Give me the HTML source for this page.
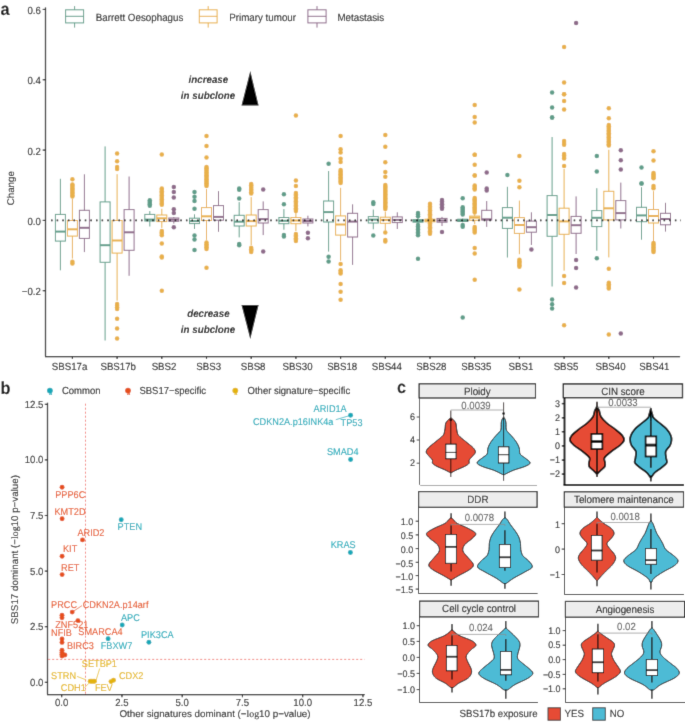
<!DOCTYPE html>
<html><head><meta charset="utf-8"><style>
html,body{margin:0;padding:0;background:#fff;}
body{width:685px;height:723px;overflow:hidden;}
#wrap{width:685px;height:723px;}
svg{display:block;font-family:"Liberation Sans", sans-serif;text-rendering:geometricPrecision;will-change:transform;}
</style></head><body>
<div id="wrap"><svg width="685" height="723" viewBox="0 0 685 723">
<defs><filter id="bl" x="0" y="0" width="685" height="723" filterUnits="userSpaceOnUse"><feConvolveMatrix order="3" kernelMatrix="0.01134 0.08382 0.01134 0.08382 0.61935 0.08382 0.01134 0.08382 0.01134" edgeMode="duplicate" preserveAlpha="true"/></filter></defs>
<rect width="685" height="723" fill="#fff"/>
<g filter="url(#bl)">
<rect width="685" height="723" fill="#fff"/>
<text transform="translate(0.5,14.6) scale(1,1.07)" font-size="16.32" text-anchor="start" fill="#000" font-weight="bold" font-style="normal" >a</text>
<line x1="45.5" y1="7.4" x2="45.5" y2="356.5" stroke="#000" stroke-width="1.25" />
<line x1="42.7" y1="9.44" x2="45.5" y2="9.44" stroke="#000" stroke-width="1.1" />
<text transform="translate(40.9,14.04) scale(1,1.07)" font-size="9.69" text-anchor="end" fill="#0d0d0d" font-weight="normal" font-style="normal" stroke="#0d0d0d" stroke-width="0.08" >0.6</text>
<line x1="42.7" y1="79.76" x2="45.5" y2="79.76" stroke="#000" stroke-width="1.1" />
<text transform="translate(40.9,84.36) scale(1,1.07)" font-size="9.69" text-anchor="end" fill="#0d0d0d" font-weight="normal" font-style="normal" stroke="#0d0d0d" stroke-width="0.08" >0.4</text>
<line x1="42.7" y1="150.08" x2="45.5" y2="150.08" stroke="#000" stroke-width="1.1" />
<text transform="translate(40.9,154.68) scale(1,1.07)" font-size="9.69" text-anchor="end" fill="#0d0d0d" font-weight="normal" font-style="normal" stroke="#0d0d0d" stroke-width="0.08" >0.2</text>
<line x1="42.7" y1="220.4" x2="45.5" y2="220.4" stroke="#000" stroke-width="1.1" />
<text transform="translate(40.9,225) scale(1,1.07)" font-size="9.69" text-anchor="end" fill="#0d0d0d" font-weight="normal" font-style="normal" stroke="#0d0d0d" stroke-width="0.08" >0.0</text>
<line x1="42.7" y1="290.72" x2="45.5" y2="290.72" stroke="#000" stroke-width="1.1" />
<text transform="translate(40.9,295.32) scale(1,1.07)" font-size="9.69" text-anchor="end" fill="#0d0d0d" font-weight="normal" font-style="normal" stroke="#0d0d0d" stroke-width="0.08" >−0.2</text>
<line x1="45" y1="356.5" x2="680.1" y2="356.5" stroke="#000" stroke-width="1.25" />
<line x1="72.4" y1="356.3" x2="72.4" y2="359" stroke="#000" stroke-width="1.1" />
<text transform="translate(69.6,369.5) scale(1,1.07)" font-size="9.69" text-anchor="middle" fill="#0d0d0d" font-weight="normal" font-style="normal" stroke="#0d0d0d" stroke-width="0.08" >SBS17a</text>
<line x1="117.1" y1="356.3" x2="117.1" y2="359" stroke="#000" stroke-width="1.1" />
<text transform="translate(118.2,369.5) scale(1,1.07)" font-size="9.69" text-anchor="middle" fill="#0d0d0d" font-weight="normal" font-style="normal" stroke="#0d0d0d" stroke-width="0.08" >SBS17b</text>
<line x1="161.8" y1="356.3" x2="161.8" y2="359" stroke="#000" stroke-width="1.1" />
<text transform="translate(164,369.5) scale(1,1.07)" font-size="9.69" text-anchor="middle" fill="#0d0d0d" font-weight="normal" font-style="normal" stroke="#0d0d0d" stroke-width="0.08" >SBS2</text>
<line x1="206.5" y1="356.3" x2="206.5" y2="359" stroke="#000" stroke-width="1.1" />
<text transform="translate(208.7,369.5) scale(1,1.07)" font-size="9.69" text-anchor="middle" fill="#0d0d0d" font-weight="normal" font-style="normal" stroke="#0d0d0d" stroke-width="0.08" >SBS3</text>
<line x1="251.2" y1="356.3" x2="251.2" y2="359" stroke="#000" stroke-width="1.1" />
<text transform="translate(253.1,369.5) scale(1,1.07)" font-size="9.69" text-anchor="middle" fill="#0d0d0d" font-weight="normal" font-style="normal" stroke="#0d0d0d" stroke-width="0.08" >SBS8</text>
<line x1="295.9" y1="356.3" x2="295.9" y2="359" stroke="#000" stroke-width="1.1" />
<text transform="translate(297.5,369.5) scale(1,1.07)" font-size="9.69" text-anchor="middle" fill="#0d0d0d" font-weight="normal" font-style="normal" stroke="#0d0d0d" stroke-width="0.08" >SBS30</text>
<line x1="340.6" y1="356.3" x2="340.6" y2="359" stroke="#000" stroke-width="1.1" />
<text transform="translate(342.2,369.5) scale(1,1.07)" font-size="9.69" text-anchor="middle" fill="#0d0d0d" font-weight="normal" font-style="normal" stroke="#0d0d0d" stroke-width="0.08" >SBS18</text>
<line x1="385.3" y1="356.3" x2="385.3" y2="359" stroke="#000" stroke-width="1.1" />
<text transform="translate(386.8,369.5) scale(1,1.07)" font-size="9.69" text-anchor="middle" fill="#0d0d0d" font-weight="normal" font-style="normal" stroke="#0d0d0d" stroke-width="0.08" >SBS44</text>
<line x1="430" y1="356.3" x2="430" y2="359" stroke="#000" stroke-width="1.1" />
<text transform="translate(431.4,369.5) scale(1,1.07)" font-size="9.69" text-anchor="middle" fill="#0d0d0d" font-weight="normal" font-style="normal" stroke="#0d0d0d" stroke-width="0.08" >SBS28</text>
<line x1="474.7" y1="356.3" x2="474.7" y2="359" stroke="#000" stroke-width="1.1" />
<text transform="translate(476.3,369.5) scale(1,1.07)" font-size="9.69" text-anchor="middle" fill="#0d0d0d" font-weight="normal" font-style="normal" stroke="#0d0d0d" stroke-width="0.08" >SBS35</text>
<line x1="519.4" y1="356.3" x2="519.4" y2="359" stroke="#000" stroke-width="1.1" />
<text transform="translate(520.9,369.5) scale(1,1.07)" font-size="9.69" text-anchor="middle" fill="#0d0d0d" font-weight="normal" font-style="normal" stroke="#0d0d0d" stroke-width="0.08" >SBS1</text>
<line x1="564.1" y1="356.3" x2="564.1" y2="359" stroke="#000" stroke-width="1.1" />
<text transform="translate(566,369.5) scale(1,1.07)" font-size="9.69" text-anchor="middle" fill="#0d0d0d" font-weight="normal" font-style="normal" stroke="#0d0d0d" stroke-width="0.08" >SBS5</text>
<line x1="608.8" y1="356.3" x2="608.8" y2="359" stroke="#000" stroke-width="1.1" />
<text transform="translate(610.5,369.5) scale(1,1.07)" font-size="9.69" text-anchor="middle" fill="#0d0d0d" font-weight="normal" font-style="normal" stroke="#0d0d0d" stroke-width="0.08" >SBS40</text>
<line x1="653.5" y1="356.3" x2="653.5" y2="359" stroke="#000" stroke-width="1.1" />
<text transform="translate(654.4,369.5) scale(1,1.07)" font-size="9.69" text-anchor="middle" fill="#0d0d0d" font-weight="normal" font-style="normal" stroke="#0d0d0d" stroke-width="0.08" >SBS41</text>
<text transform="translate(13.9,188.2) rotate(-90)" font-size="9.75" text-anchor="middle" fill="#0d0d0d" stroke="#0d0d0d" stroke-width="0.08">Change</text>
<line x1="74.6" y1="6.1" x2="74.6" y2="27.6" stroke="#5f9d89" stroke-width="1" />
<rect x="65.6" y="9.8" width="18" height="13.1" fill="#fff" stroke="#5f9d89" stroke-width="1"/>
<line x1="65.6" y1="16.3" x2="83.6" y2="16.3" stroke="#5f9d89" stroke-width="1" />
<text transform="translate(95.8,21) scale(1,1.07)" font-size="9.79" text-anchor="start" fill="#0d0d0d" font-weight="normal" font-style="normal" stroke="#0d0d0d" stroke-width="0.08" >Barrett Oesophagus</text>
<line x1="208.2" y1="6.1" x2="208.2" y2="27.6" stroke="#e8b04a" stroke-width="1" />
<rect x="199.3" y="9.8" width="17.8" height="13.1" fill="#fff" stroke="#e8b04a" stroke-width="1"/>
<line x1="199.3" y1="16.3" x2="217.1" y2="16.3" stroke="#e8b04a" stroke-width="1" />
<text transform="translate(229.2,21) scale(1,1.07)" font-size="9.79" text-anchor="start" fill="#0d0d0d" font-weight="normal" font-style="normal" stroke="#0d0d0d" stroke-width="0.08" >Primary tumour</text>
<line x1="317" y1="6.1" x2="317" y2="27.6" stroke="#8e6b8a" stroke-width="1" />
<rect x="307.9" y="9.8" width="18.2" height="13.1" fill="#fff" stroke="#8e6b8a" stroke-width="1"/>
<line x1="307.9" y1="16.3" x2="326.1" y2="16.3" stroke="#8e6b8a" stroke-width="1" />
<text transform="translate(337.4,21) scale(1,1.07)" font-size="9.79" text-anchor="start" fill="#0d0d0d" font-weight="normal" font-style="normal" stroke="#0d0d0d" stroke-width="0.08" >Metastasis</text>
<line x1="60.4" y1="178.8" x2="60.4" y2="214.4" stroke="#5f9d89" stroke-width="1" />
<line x1="60.4" y1="241.1" x2="60.4" y2="270.3" stroke="#5f9d89" stroke-width="1" />
<rect x="55.4" y="214.4" width="10" height="26.7" fill="none" stroke="#5f9d89" stroke-width="1"/>
<line x1="55.4" y1="231.6" x2="65.4" y2="231.6" stroke="#5f9d89" stroke-width="2" />
<circle cx="72.4" cy="179.3" r="2.25" fill="#e8b04a"/>
<circle cx="72.4" cy="184.4" r="2.25" fill="#e8b04a"/>
<circle cx="72.4" cy="185.74" r="2.25" fill="#e8b04a"/>
<circle cx="72.4" cy="187.09" r="2.25" fill="#e8b04a"/>
<circle cx="72.4" cy="188.43" r="2.25" fill="#e8b04a"/>
<circle cx="72.4" cy="189.78" r="2.25" fill="#e8b04a"/>
<circle cx="72.4" cy="191.12" r="2.25" fill="#e8b04a"/>
<circle cx="72.4" cy="192.47" r="2.25" fill="#e8b04a"/>
<circle cx="72.4" cy="193.81" r="2.25" fill="#e8b04a"/>
<circle cx="72.4" cy="195.16" r="2.25" fill="#e8b04a"/>
<circle cx="72.4" cy="196.5" r="2.25" fill="#e8b04a"/>
<circle cx="72.4" cy="261.8" r="2.25" fill="#e8b04a"/>
<circle cx="72.4" cy="263.6" r="2.25" fill="#e8b04a"/>
<line x1="72.4" y1="198.9" x2="72.4" y2="220.5" stroke="#e8b04a" stroke-width="1" />
<line x1="72.4" y1="236.1" x2="72.4" y2="258.5" stroke="#e8b04a" stroke-width="1" />
<rect x="67.4" y="220.5" width="10" height="15.6" fill="none" stroke="#e8b04a" stroke-width="1"/>
<line x1="67.4" y1="229.3" x2="77.4" y2="229.3" stroke="#e8b04a" stroke-width="2" />
<line x1="84.4" y1="174.3" x2="84.4" y2="210.3" stroke="#8e6b8a" stroke-width="1" />
<line x1="84.4" y1="238.4" x2="84.4" y2="252.1" stroke="#8e6b8a" stroke-width="1" />
<rect x="79.4" y="210.3" width="10" height="28.1" fill="none" stroke="#8e6b8a" stroke-width="1"/>
<line x1="79.4" y1="227.8" x2="89.4" y2="227.8" stroke="#8e6b8a" stroke-width="2" />
<line x1="105.1" y1="146.4" x2="105.1" y2="201.9" stroke="#5f9d89" stroke-width="1" />
<line x1="105.1" y1="262.3" x2="105.1" y2="340.5" stroke="#5f9d89" stroke-width="1" />
<rect x="100.1" y="201.9" width="10" height="60.4" fill="none" stroke="#5f9d89" stroke-width="1"/>
<line x1="100.1" y1="245.2" x2="110.1" y2="245.2" stroke="#5f9d89" stroke-width="2" />
<circle cx="117.1" cy="153.4" r="2.25" fill="#e8b04a"/>
<circle cx="117.1" cy="161.3" r="2.25" fill="#e8b04a"/>
<circle cx="117.1" cy="167.1" r="2.25" fill="#e8b04a"/>
<circle cx="117.1" cy="168.9" r="2.25" fill="#e8b04a"/>
<circle cx="117.1" cy="304.1" r="2.25" fill="#e8b04a"/>
<circle cx="117.1" cy="305.7" r="2.25" fill="#e8b04a"/>
<circle cx="117.1" cy="307.3" r="2.25" fill="#e8b04a"/>
<circle cx="117.1" cy="308.9" r="2.25" fill="#e8b04a"/>
<circle cx="117.1" cy="318.7" r="2.25" fill="#e8b04a"/>
<circle cx="117.1" cy="328.6" r="2.25" fill="#e8b04a"/>
<circle cx="117.1" cy="338.6" r="2.25" fill="#e8b04a"/>
<line x1="117.1" y1="174.2" x2="117.1" y2="220.5" stroke="#e8b04a" stroke-width="1" />
<line x1="117.1" y1="253.1" x2="117.1" y2="300.7" stroke="#e8b04a" stroke-width="1" />
<rect x="112.1" y="220.5" width="10" height="32.6" fill="none" stroke="#e8b04a" stroke-width="1"/>
<line x1="112.1" y1="240.5" x2="122.1" y2="240.5" stroke="#e8b04a" stroke-width="2" />
<line x1="129.1" y1="176.5" x2="129.1" y2="209.6" stroke="#8e6b8a" stroke-width="1" />
<line x1="129.1" y1="250.3" x2="129.1" y2="275.8" stroke="#8e6b8a" stroke-width="1" />
<rect x="124.1" y="209.6" width="10" height="40.7" fill="none" stroke="#8e6b8a" stroke-width="1"/>
<line x1="124.1" y1="232.3" x2="134.1" y2="232.3" stroke="#8e6b8a" stroke-width="2" />
<circle cx="149.8" cy="200.3" r="2.25" fill="#5f9d89"/>
<circle cx="149.8" cy="201.65" r="2.25" fill="#5f9d89"/>
<circle cx="149.8" cy="203" r="2.25" fill="#5f9d89"/>
<circle cx="149.8" cy="204.35" r="2.25" fill="#5f9d89"/>
<circle cx="149.8" cy="205.7" r="2.25" fill="#5f9d89"/>
<line x1="149.8" y1="211.1" x2="149.8" y2="214.4" stroke="#5f9d89" stroke-width="1" />
<line x1="149.8" y1="221" x2="149.8" y2="226.5" stroke="#5f9d89" stroke-width="1" />
<rect x="144.8" y="214.4" width="10" height="6.6" fill="none" stroke="#5f9d89" stroke-width="1"/>
<line x1="144.8" y1="219.6" x2="154.8" y2="219.6" stroke="#5f9d89" stroke-width="2" />
<circle cx="161.8" cy="154.4" r="2.25" fill="#e8b04a"/>
<circle cx="161.8" cy="188.5" r="2.25" fill="#e8b04a"/>
<circle cx="161.8" cy="189.86" r="2.25" fill="#e8b04a"/>
<circle cx="161.8" cy="191.22" r="2.25" fill="#e8b04a"/>
<circle cx="161.8" cy="192.57" r="2.25" fill="#e8b04a"/>
<circle cx="161.8" cy="193.93" r="2.25" fill="#e8b04a"/>
<circle cx="161.8" cy="195.29" r="2.25" fill="#e8b04a"/>
<circle cx="161.8" cy="196.65" r="2.25" fill="#e8b04a"/>
<circle cx="161.8" cy="198.01" r="2.25" fill="#e8b04a"/>
<circle cx="161.8" cy="199.37" r="2.25" fill="#e8b04a"/>
<circle cx="161.8" cy="200.73" r="2.25" fill="#e8b04a"/>
<circle cx="161.8" cy="202.08" r="2.25" fill="#e8b04a"/>
<circle cx="161.8" cy="203.44" r="2.25" fill="#e8b04a"/>
<circle cx="161.8" cy="204.8" r="2.25" fill="#e8b04a"/>
<circle cx="161.8" cy="231" r="2.25" fill="#e8b04a"/>
<circle cx="161.8" cy="232.4" r="2.25" fill="#e8b04a"/>
<circle cx="161.8" cy="233.8" r="2.25" fill="#e8b04a"/>
<circle cx="161.8" cy="235.2" r="2.25" fill="#e8b04a"/>
<circle cx="161.8" cy="243.6" r="2.25" fill="#e8b04a"/>
<circle cx="161.8" cy="256.4" r="2.25" fill="#e8b04a"/>
<circle cx="161.8" cy="257.5" r="2.25" fill="#e8b04a"/>
<circle cx="161.8" cy="290.8" r="2.25" fill="#e8b04a"/>
<line x1="161.8" y1="208.8" x2="161.8" y2="215" stroke="#e8b04a" stroke-width="1" />
<line x1="161.8" y1="221.6" x2="161.8" y2="227.9" stroke="#e8b04a" stroke-width="1" />
<rect x="156.8" y="215" width="10" height="6.6" fill="none" stroke="#e8b04a" stroke-width="1"/>
<line x1="156.8" y1="218.3" x2="166.8" y2="218.3" stroke="#e8b04a" stroke-width="2" />
<circle cx="173.8" cy="187.1" r="2.25" fill="#8e6b8a"/>
<circle cx="173.8" cy="192.1" r="2.25" fill="#8e6b8a"/>
<circle cx="173.8" cy="197.4" r="2.25" fill="#8e6b8a"/>
<circle cx="173.8" cy="209.3" r="2.25" fill="#8e6b8a"/>
<circle cx="173.8" cy="212.9" r="2.25" fill="#8e6b8a"/>
<circle cx="173.8" cy="227.3" r="2.25" fill="#8e6b8a"/>
<line x1="173.8" y1="217" x2="173.8" y2="218" stroke="#8e6b8a" stroke-width="1" />
<line x1="173.8" y1="221.3" x2="173.8" y2="223.6" stroke="#8e6b8a" stroke-width="1" />
<rect x="168.8" y="218" width="10" height="3.3" fill="none" stroke="#8e6b8a" stroke-width="1"/>
<line x1="168.8" y1="219.7" x2="178.8" y2="219.7" stroke="#8e6b8a" stroke-width="2" />
<circle cx="194.5" cy="192" r="2.25" fill="#5f9d89"/>
<circle cx="194.5" cy="196.8" r="2.25" fill="#5f9d89"/>
<circle cx="194.5" cy="201" r="2.25" fill="#5f9d89"/>
<circle cx="194.5" cy="208.7" r="2.25" fill="#5f9d89"/>
<circle cx="194.5" cy="235.5" r="2.25" fill="#5f9d89"/>
<circle cx="194.5" cy="239.6" r="2.25" fill="#5f9d89"/>
<circle cx="194.5" cy="250.1" r="2.25" fill="#5f9d89"/>
<line x1="194.5" y1="214.3" x2="194.5" y2="218.2" stroke="#5f9d89" stroke-width="1" />
<line x1="194.5" y1="223.6" x2="194.5" y2="229" stroke="#5f9d89" stroke-width="1" />
<rect x="189.5" y="218.2" width="10" height="5.4" fill="none" stroke="#5f9d89" stroke-width="1"/>
<line x1="189.5" y1="221.1" x2="199.5" y2="221.1" stroke="#5f9d89" stroke-width="2" />
<circle cx="206.5" cy="135.9" r="2.25" fill="#e8b04a"/>
<circle cx="206.5" cy="145.9" r="2.25" fill="#e8b04a"/>
<circle cx="206.5" cy="157.6" r="2.25" fill="#e8b04a"/>
<circle cx="206.5" cy="167" r="2.25" fill="#e8b04a"/>
<circle cx="206.5" cy="168.36" r="2.25" fill="#e8b04a"/>
<circle cx="206.5" cy="169.73" r="2.25" fill="#e8b04a"/>
<circle cx="206.5" cy="171.09" r="2.25" fill="#e8b04a"/>
<circle cx="206.5" cy="172.46" r="2.25" fill="#e8b04a"/>
<circle cx="206.5" cy="173.82" r="2.25" fill="#e8b04a"/>
<circle cx="206.5" cy="175.19" r="2.25" fill="#e8b04a"/>
<circle cx="206.5" cy="176.55" r="2.25" fill="#e8b04a"/>
<circle cx="206.5" cy="177.91" r="2.25" fill="#e8b04a"/>
<circle cx="206.5" cy="179.28" r="2.25" fill="#e8b04a"/>
<circle cx="206.5" cy="180.64" r="2.25" fill="#e8b04a"/>
<circle cx="206.5" cy="182.01" r="2.25" fill="#e8b04a"/>
<circle cx="206.5" cy="183.37" r="2.25" fill="#e8b04a"/>
<circle cx="206.5" cy="184.74" r="2.25" fill="#e8b04a"/>
<circle cx="206.5" cy="186.1" r="2.25" fill="#e8b04a"/>
<circle cx="206.5" cy="242.6" r="2.25" fill="#e8b04a"/>
<circle cx="206.5" cy="244.18" r="2.25" fill="#e8b04a"/>
<circle cx="206.5" cy="245.75" r="2.25" fill="#e8b04a"/>
<circle cx="206.5" cy="247.32" r="2.25" fill="#e8b04a"/>
<circle cx="206.5" cy="248.9" r="2.25" fill="#e8b04a"/>
<circle cx="206.5" cy="267.7" r="2.25" fill="#e8b04a"/>
<line x1="206.5" y1="189.1" x2="206.5" y2="207.6" stroke="#e8b04a" stroke-width="1" />
<line x1="206.5" y1="220.5" x2="206.5" y2="239.9" stroke="#e8b04a" stroke-width="1" />
<rect x="201.5" y="207.6" width="10" height="12.9" fill="none" stroke="#e8b04a" stroke-width="1"/>
<line x1="201.5" y1="216.3" x2="211.5" y2="216.3" stroke="#e8b04a" stroke-width="2" />
<line x1="218.5" y1="191.1" x2="218.5" y2="205.6" stroke="#8e6b8a" stroke-width="1" />
<line x1="218.5" y1="220.2" x2="218.5" y2="231.8" stroke="#8e6b8a" stroke-width="1" />
<rect x="213.5" y="205.6" width="10" height="14.6" fill="none" stroke="#8e6b8a" stroke-width="1"/>
<line x1="213.5" y1="216.9" x2="223.5" y2="216.9" stroke="#8e6b8a" stroke-width="2" />
<circle cx="239.2" cy="188.6" r="2.25" fill="#5f9d89"/>
<circle cx="239.2" cy="189.7" r="2.25" fill="#5f9d89"/>
<circle cx="239.2" cy="198.6" r="2.25" fill="#5f9d89"/>
<circle cx="239.2" cy="244.1" r="2.25" fill="#5f9d89"/>
<circle cx="239.2" cy="245.2" r="2.25" fill="#5f9d89"/>
<line x1="239.2" y1="202.1" x2="239.2" y2="215.3" stroke="#5f9d89" stroke-width="1" />
<line x1="239.2" y1="226" x2="239.2" y2="237.4" stroke="#5f9d89" stroke-width="1" />
<rect x="234.2" y="215.3" width="10" height="10.7" fill="none" stroke="#5f9d89" stroke-width="1"/>
<line x1="234.2" y1="221.7" x2="244.2" y2="221.7" stroke="#5f9d89" stroke-width="2" />
<circle cx="251.2" cy="184" r="2.25" fill="#e8b04a"/>
<circle cx="251.2" cy="185.36" r="2.25" fill="#e8b04a"/>
<circle cx="251.2" cy="186.71" r="2.25" fill="#e8b04a"/>
<circle cx="251.2" cy="188.07" r="2.25" fill="#e8b04a"/>
<circle cx="251.2" cy="189.43" r="2.25" fill="#e8b04a"/>
<circle cx="251.2" cy="190.79" r="2.25" fill="#e8b04a"/>
<circle cx="251.2" cy="192.14" r="2.25" fill="#e8b04a"/>
<circle cx="251.2" cy="193.5" r="2.25" fill="#e8b04a"/>
<circle cx="251.2" cy="247.8" r="2.25" fill="#e8b04a"/>
<circle cx="251.2" cy="249.2" r="2.25" fill="#e8b04a"/>
<circle cx="251.2" cy="250.6" r="2.25" fill="#e8b04a"/>
<circle cx="251.2" cy="252" r="2.25" fill="#e8b04a"/>
<line x1="251.2" y1="197.1" x2="251.2" y2="215" stroke="#e8b04a" stroke-width="1" />
<line x1="251.2" y1="226" x2="251.2" y2="245" stroke="#e8b04a" stroke-width="1" />
<rect x="246.2" y="215" width="10" height="11" fill="none" stroke="#e8b04a" stroke-width="1"/>
<line x1="246.2" y1="221.1" x2="256.2" y2="221.1" stroke="#e8b04a" stroke-width="2" />
<circle cx="263.2" cy="189.5" r="2.25" fill="#8e6b8a"/>
<circle cx="263.2" cy="251.5" r="2.25" fill="#8e6b8a"/>
<line x1="263.2" y1="201.4" x2="263.2" y2="209.6" stroke="#8e6b8a" stroke-width="1" />
<line x1="263.2" y1="223" x2="263.2" y2="235.1" stroke="#8e6b8a" stroke-width="1" />
<rect x="258.2" y="209.6" width="10" height="13.4" fill="none" stroke="#8e6b8a" stroke-width="1"/>
<line x1="258.2" y1="219.1" x2="268.2" y2="219.1" stroke="#8e6b8a" stroke-width="2" />
<circle cx="283.9" cy="194.2" r="2.25" fill="#5f9d89"/>
<circle cx="283.9" cy="204.2" r="2.25" fill="#5f9d89"/>
<circle cx="283.9" cy="235.1" r="2.25" fill="#5f9d89"/>
<circle cx="283.9" cy="236.5" r="2.25" fill="#5f9d89"/>
<line x1="283.9" y1="209.1" x2="283.9" y2="217.5" stroke="#5f9d89" stroke-width="1" />
<line x1="283.9" y1="223.7" x2="283.9" y2="229.7" stroke="#5f9d89" stroke-width="1" />
<rect x="278.9" y="217.5" width="10" height="6.2" fill="none" stroke="#5f9d89" stroke-width="1"/>
<line x1="278.9" y1="220.8" x2="288.9" y2="220.8" stroke="#5f9d89" stroke-width="2" />
<circle cx="295.9" cy="115.5" r="2.25" fill="#e8b04a"/>
<circle cx="295.9" cy="180.5" r="2.25" fill="#e8b04a"/>
<circle cx="295.9" cy="186" r="2.25" fill="#e8b04a"/>
<circle cx="295.9" cy="193" r="2.25" fill="#e8b04a"/>
<circle cx="295.9" cy="194.38" r="2.25" fill="#e8b04a"/>
<circle cx="295.9" cy="195.77" r="2.25" fill="#e8b04a"/>
<circle cx="295.9" cy="197.15" r="2.25" fill="#e8b04a"/>
<circle cx="295.9" cy="198.54" r="2.25" fill="#e8b04a"/>
<circle cx="295.9" cy="199.92" r="2.25" fill="#e8b04a"/>
<circle cx="295.9" cy="201.31" r="2.25" fill="#e8b04a"/>
<circle cx="295.9" cy="202.69" r="2.25" fill="#e8b04a"/>
<circle cx="295.9" cy="204.08" r="2.25" fill="#e8b04a"/>
<circle cx="295.9" cy="205.46" r="2.25" fill="#e8b04a"/>
<circle cx="295.9" cy="206.85" r="2.25" fill="#e8b04a"/>
<circle cx="295.9" cy="208.23" r="2.25" fill="#e8b04a"/>
<circle cx="295.9" cy="209.62" r="2.25" fill="#e8b04a"/>
<circle cx="295.9" cy="211" r="2.25" fill="#e8b04a"/>
<circle cx="295.9" cy="234" r="2.25" fill="#e8b04a"/>
<circle cx="295.9" cy="235.38" r="2.25" fill="#e8b04a"/>
<circle cx="295.9" cy="236.76" r="2.25" fill="#e8b04a"/>
<circle cx="295.9" cy="238.14" r="2.25" fill="#e8b04a"/>
<circle cx="295.9" cy="239.52" r="2.25" fill="#e8b04a"/>
<circle cx="295.9" cy="240.9" r="2.25" fill="#e8b04a"/>
<line x1="295.9" y1="213" x2="295.9" y2="217.5" stroke="#e8b04a" stroke-width="1" />
<line x1="295.9" y1="223.7" x2="295.9" y2="231" stroke="#e8b04a" stroke-width="1" />
<rect x="290.9" y="217.5" width="10" height="6.2" fill="none" stroke="#e8b04a" stroke-width="1"/>
<line x1="290.9" y1="220.5" x2="300.9" y2="220.5" stroke="#e8b04a" stroke-width="2" />
<circle cx="307.9" cy="232.7" r="2.25" fill="#8e6b8a"/>
<circle cx="307.9" cy="238.2" r="2.25" fill="#8e6b8a"/>
<line x1="307.9" y1="215.7" x2="307.9" y2="219" stroke="#8e6b8a" stroke-width="1" />
<line x1="307.9" y1="223" x2="307.9" y2="226.4" stroke="#8e6b8a" stroke-width="1" />
<rect x="302.9" y="219" width="10" height="4" fill="none" stroke="#8e6b8a" stroke-width="1"/>
<line x1="302.9" y1="221" x2="312.9" y2="221" stroke="#8e6b8a" stroke-width="2" />
<circle cx="328.6" cy="163.7" r="2.25" fill="#5f9d89"/>
<circle cx="328.6" cy="256.8" r="2.25" fill="#5f9d89"/>
<circle cx="328.6" cy="261.6" r="2.25" fill="#5f9d89"/>
<line x1="328.6" y1="171" x2="328.6" y2="201" stroke="#5f9d89" stroke-width="1" />
<line x1="328.6" y1="222" x2="328.6" y2="251.6" stroke="#5f9d89" stroke-width="1" />
<rect x="323.6" y="201" width="10" height="21" fill="none" stroke="#5f9d89" stroke-width="1"/>
<line x1="323.6" y1="212.1" x2="333.6" y2="212.1" stroke="#5f9d89" stroke-width="2" />
<circle cx="340.6" cy="136" r="2.25" fill="#e8b04a"/>
<circle cx="340.6" cy="149.3" r="2.25" fill="#e8b04a"/>
<circle cx="340.6" cy="152.5" r="2.25" fill="#e8b04a"/>
<circle cx="340.6" cy="158.8" r="2.25" fill="#e8b04a"/>
<circle cx="340.6" cy="162" r="2.25" fill="#e8b04a"/>
<circle cx="340.6" cy="170.1" r="2.25" fill="#e8b04a"/>
<circle cx="340.6" cy="171.52" r="2.25" fill="#e8b04a"/>
<circle cx="340.6" cy="172.94" r="2.25" fill="#e8b04a"/>
<circle cx="340.6" cy="174.37" r="2.25" fill="#e8b04a"/>
<circle cx="340.6" cy="175.79" r="2.25" fill="#e8b04a"/>
<circle cx="340.6" cy="177.21" r="2.25" fill="#e8b04a"/>
<circle cx="340.6" cy="178.63" r="2.25" fill="#e8b04a"/>
<circle cx="340.6" cy="180.06" r="2.25" fill="#e8b04a"/>
<circle cx="340.6" cy="181.48" r="2.25" fill="#e8b04a"/>
<circle cx="340.6" cy="182.9" r="2.25" fill="#e8b04a"/>
<circle cx="340.6" cy="264" r="2.25" fill="#e8b04a"/>
<circle cx="340.6" cy="270.3" r="2.25" fill="#e8b04a"/>
<circle cx="340.6" cy="271.9" r="2.25" fill="#e8b04a"/>
<circle cx="340.6" cy="273.5" r="2.25" fill="#e8b04a"/>
<circle cx="340.6" cy="284" r="2.25" fill="#e8b04a"/>
<circle cx="340.6" cy="291.8" r="2.25" fill="#e8b04a"/>
<circle cx="340.6" cy="299.7" r="2.25" fill="#e8b04a"/>
<line x1="340.6" y1="187.8" x2="340.6" y2="215.9" stroke="#e8b04a" stroke-width="1" />
<line x1="340.6" y1="235.1" x2="340.6" y2="260.7" stroke="#e8b04a" stroke-width="1" />
<rect x="335.6" y="215.9" width="10" height="19.2" fill="none" stroke="#e8b04a" stroke-width="1"/>
<line x1="335.6" y1="224.5" x2="345.6" y2="224.5" stroke="#e8b04a" stroke-width="2" />
<line x1="352.6" y1="204.3" x2="352.6" y2="213.3" stroke="#8e6b8a" stroke-width="1" />
<line x1="352.6" y1="237" x2="352.6" y2="264.9" stroke="#8e6b8a" stroke-width="1" />
<rect x="347.6" y="213.3" width="10" height="23.7" fill="none" stroke="#8e6b8a" stroke-width="1"/>
<line x1="347.6" y1="221.6" x2="357.6" y2="221.6" stroke="#8e6b8a" stroke-width="2" />
<circle cx="373.3" cy="202.3" r="2.25" fill="#5f9d89"/>
<circle cx="373.3" cy="204.1" r="2.25" fill="#5f9d89"/>
<circle cx="373.3" cy="235.4" r="2.25" fill="#5f9d89"/>
<line x1="373.3" y1="209.6" x2="373.3" y2="216.6" stroke="#5f9d89" stroke-width="1" />
<line x1="373.3" y1="223" x2="373.3" y2="229.3" stroke="#5f9d89" stroke-width="1" />
<rect x="368.3" y="216.6" width="10" height="6.4" fill="none" stroke="#5f9d89" stroke-width="1"/>
<line x1="368.3" y1="219.6" x2="378.3" y2="219.6" stroke="#5f9d89" stroke-width="2" />
<circle cx="385.3" cy="135" r="2.25" fill="#e8b04a"/>
<circle cx="385.3" cy="146.7" r="2.25" fill="#e8b04a"/>
<circle cx="385.3" cy="162.2" r="2.25" fill="#e8b04a"/>
<circle cx="385.3" cy="171.9" r="2.25" fill="#e8b04a"/>
<circle cx="385.3" cy="176.8" r="2.25" fill="#e8b04a"/>
<circle cx="385.3" cy="185.1" r="2.25" fill="#e8b04a"/>
<circle cx="385.3" cy="186.42" r="2.25" fill="#e8b04a"/>
<circle cx="385.3" cy="187.74" r="2.25" fill="#e8b04a"/>
<circle cx="385.3" cy="189.07" r="2.25" fill="#e8b04a"/>
<circle cx="385.3" cy="190.39" r="2.25" fill="#e8b04a"/>
<circle cx="385.3" cy="191.71" r="2.25" fill="#e8b04a"/>
<circle cx="385.3" cy="193.03" r="2.25" fill="#e8b04a"/>
<circle cx="385.3" cy="194.36" r="2.25" fill="#e8b04a"/>
<circle cx="385.3" cy="195.68" r="2.25" fill="#e8b04a"/>
<circle cx="385.3" cy="197" r="2.25" fill="#e8b04a"/>
<circle cx="385.3" cy="198.32" r="2.25" fill="#e8b04a"/>
<circle cx="385.3" cy="199.64" r="2.25" fill="#e8b04a"/>
<circle cx="385.3" cy="200.97" r="2.25" fill="#e8b04a"/>
<circle cx="385.3" cy="202.29" r="2.25" fill="#e8b04a"/>
<circle cx="385.3" cy="203.61" r="2.25" fill="#e8b04a"/>
<circle cx="385.3" cy="204.93" r="2.25" fill="#e8b04a"/>
<circle cx="385.3" cy="206.26" r="2.25" fill="#e8b04a"/>
<circle cx="385.3" cy="207.58" r="2.25" fill="#e8b04a"/>
<circle cx="385.3" cy="208.9" r="2.25" fill="#e8b04a"/>
<circle cx="385.3" cy="232.5" r="2.25" fill="#e8b04a"/>
<circle cx="385.3" cy="239.9" r="2.25" fill="#e8b04a"/>
<circle cx="385.3" cy="241.4" r="2.25" fill="#e8b04a"/>
<line x1="385.3" y1="211.6" x2="385.3" y2="217.2" stroke="#e8b04a" stroke-width="1" />
<line x1="385.3" y1="223.3" x2="385.3" y2="230.5" stroke="#e8b04a" stroke-width="1" />
<rect x="380.3" y="217.2" width="10" height="6.1" fill="none" stroke="#e8b04a" stroke-width="1"/>
<line x1="380.3" y1="219.9" x2="390.3" y2="219.9" stroke="#e8b04a" stroke-width="2" />
<line x1="397.3" y1="212.3" x2="397.3" y2="216.9" stroke="#8e6b8a" stroke-width="1" />
<line x1="397.3" y1="222.6" x2="397.3" y2="229" stroke="#8e6b8a" stroke-width="1" />
<rect x="392.3" y="216.9" width="10" height="5.7" fill="none" stroke="#8e6b8a" stroke-width="1"/>
<line x1="392.3" y1="219.9" x2="402.3" y2="219.9" stroke="#8e6b8a" stroke-width="2" />
<circle cx="418" cy="212.9" r="2.25" fill="#5f9d89"/>
<circle cx="418" cy="214.6" r="2.25" fill="#5f9d89"/>
<circle cx="418" cy="216.3" r="2.25" fill="#5f9d89"/>
<circle cx="418" cy="225.1" r="2.25" fill="#5f9d89"/>
<circle cx="418" cy="226.56" r="2.25" fill="#5f9d89"/>
<circle cx="418" cy="228.01" r="2.25" fill="#5f9d89"/>
<circle cx="418" cy="229.47" r="2.25" fill="#5f9d89"/>
<circle cx="418" cy="230.93" r="2.25" fill="#5f9d89"/>
<circle cx="418" cy="232.39" r="2.25" fill="#5f9d89"/>
<circle cx="418" cy="233.84" r="2.25" fill="#5f9d89"/>
<circle cx="418" cy="235.3" r="2.25" fill="#5f9d89"/>
<circle cx="418" cy="258.7" r="2.25" fill="#5f9d89"/>
<line x1="418" y1="218" x2="418" y2="219.6" stroke="#5f9d89" stroke-width="1" />
<line x1="418" y1="222.2" x2="418" y2="223" stroke="#5f9d89" stroke-width="1" />
<rect x="413" y="219.6" width="10" height="2.6" fill="none" stroke="#5f9d89" stroke-width="1"/>
<line x1="413" y1="221" x2="423" y2="221" stroke="#5f9d89" stroke-width="2" />
<circle cx="430" cy="203.8" r="2.25" fill="#e8b04a"/>
<circle cx="430" cy="205.1" r="2.25" fill="#e8b04a"/>
<circle cx="430" cy="206.41" r="2.25" fill="#e8b04a"/>
<circle cx="430" cy="207.71" r="2.25" fill="#e8b04a"/>
<circle cx="430" cy="209.02" r="2.25" fill="#e8b04a"/>
<circle cx="430" cy="210.32" r="2.25" fill="#e8b04a"/>
<circle cx="430" cy="211.63" r="2.25" fill="#e8b04a"/>
<circle cx="430" cy="212.93" r="2.25" fill="#e8b04a"/>
<circle cx="430" cy="214.23" r="2.25" fill="#e8b04a"/>
<circle cx="430" cy="215.54" r="2.25" fill="#e8b04a"/>
<circle cx="430" cy="216.84" r="2.25" fill="#e8b04a"/>
<circle cx="430" cy="218.15" r="2.25" fill="#e8b04a"/>
<circle cx="430" cy="219.45" r="2.25" fill="#e8b04a"/>
<circle cx="430" cy="220.76" r="2.25" fill="#e8b04a"/>
<circle cx="430" cy="222.06" r="2.25" fill="#e8b04a"/>
<circle cx="430" cy="223.37" r="2.25" fill="#e8b04a"/>
<circle cx="430" cy="224.67" r="2.25" fill="#e8b04a"/>
<circle cx="430" cy="225.97" r="2.25" fill="#e8b04a"/>
<circle cx="430" cy="227.28" r="2.25" fill="#e8b04a"/>
<circle cx="430" cy="228.58" r="2.25" fill="#e8b04a"/>
<circle cx="430" cy="229.89" r="2.25" fill="#e8b04a"/>
<circle cx="430" cy="231.19" r="2.25" fill="#e8b04a"/>
<circle cx="430" cy="232.5" r="2.25" fill="#e8b04a"/>
<circle cx="430" cy="233.8" r="2.25" fill="#e8b04a"/>
<line x1="430" y1="218.5" x2="430" y2="219.2" stroke="#e8b04a" stroke-width="1" />
<line x1="430" y1="221.8" x2="430" y2="222.5" stroke="#e8b04a" stroke-width="1" />
<rect x="425" y="219.2" width="10" height="2.6" fill="none" stroke="#e8b04a" stroke-width="1"/>
<line x1="425" y1="220.5" x2="435" y2="220.5" stroke="#e8b04a" stroke-width="2" />
<circle cx="442" cy="200" r="2.25" fill="#8e6b8a"/>
<circle cx="442" cy="201.45" r="2.25" fill="#8e6b8a"/>
<circle cx="442" cy="202.9" r="2.25" fill="#8e6b8a"/>
<circle cx="442" cy="204.35" r="2.25" fill="#8e6b8a"/>
<circle cx="442" cy="205.8" r="2.25" fill="#8e6b8a"/>
<circle cx="442" cy="207.25" r="2.25" fill="#8e6b8a"/>
<circle cx="442" cy="208.7" r="2.25" fill="#8e6b8a"/>
<circle cx="442" cy="232.1" r="2.25" fill="#8e6b8a"/>
<line x1="442" y1="216.9" x2="442" y2="218.4" stroke="#8e6b8a" stroke-width="1" />
<line x1="442" y1="222.2" x2="442" y2="226" stroke="#8e6b8a" stroke-width="1" />
<rect x="437" y="218.4" width="10" height="3.8" fill="none" stroke="#8e6b8a" stroke-width="1"/>
<line x1="437" y1="220.5" x2="447" y2="220.5" stroke="#8e6b8a" stroke-width="2" />
<circle cx="462.7" cy="198.3" r="2.25" fill="#5f9d89"/>
<circle cx="462.7" cy="207.2" r="2.25" fill="#5f9d89"/>
<circle cx="462.7" cy="208.66" r="2.25" fill="#5f9d89"/>
<circle cx="462.7" cy="210.12" r="2.25" fill="#5f9d89"/>
<circle cx="462.7" cy="211.58" r="2.25" fill="#5f9d89"/>
<circle cx="462.7" cy="213.04" r="2.25" fill="#5f9d89"/>
<circle cx="462.7" cy="214.5" r="2.25" fill="#5f9d89"/>
<circle cx="462.7" cy="224.9" r="2.25" fill="#5f9d89"/>
<circle cx="462.7" cy="226.7" r="2.25" fill="#5f9d89"/>
<circle cx="462.7" cy="317.5" r="2.25" fill="#5f9d89"/>
<line x1="462.7" y1="218.5" x2="462.7" y2="219.2" stroke="#5f9d89" stroke-width="1" />
<line x1="462.7" y1="221.5" x2="462.7" y2="222.2" stroke="#5f9d89" stroke-width="1" />
<rect x="457.7" y="219.2" width="10" height="2.3" fill="none" stroke="#5f9d89" stroke-width="1"/>
<line x1="457.7" y1="220.3" x2="467.7" y2="220.3" stroke="#5f9d89" stroke-width="2" />
<circle cx="474.7" cy="104.9" r="2.25" fill="#e8b04a"/>
<circle cx="474.7" cy="117" r="2.25" fill="#e8b04a"/>
<circle cx="474.7" cy="122.6" r="2.25" fill="#e8b04a"/>
<circle cx="474.7" cy="154.85" r="2.25" fill="#e8b04a"/>
<circle cx="474.7" cy="154.85" r="2.25" fill="#e8b04a"/>
<circle cx="474.7" cy="164.7" r="2.25" fill="#e8b04a"/>
<circle cx="474.7" cy="175.55" r="2.25" fill="#e8b04a"/>
<circle cx="474.7" cy="175.55" r="2.25" fill="#e8b04a"/>
<circle cx="474.7" cy="185.5" r="2.25" fill="#e8b04a"/>
<circle cx="474.7" cy="186.87" r="2.25" fill="#e8b04a"/>
<circle cx="474.7" cy="188.23" r="2.25" fill="#e8b04a"/>
<circle cx="474.7" cy="189.6" r="2.25" fill="#e8b04a"/>
<circle cx="474.7" cy="197.9" r="2.25" fill="#e8b04a"/>
<circle cx="474.7" cy="199.22" r="2.25" fill="#e8b04a"/>
<circle cx="474.7" cy="200.54" r="2.25" fill="#e8b04a"/>
<circle cx="474.7" cy="201.85" r="2.25" fill="#e8b04a"/>
<circle cx="474.7" cy="203.17" r="2.25" fill="#e8b04a"/>
<circle cx="474.7" cy="204.49" r="2.25" fill="#e8b04a"/>
<circle cx="474.7" cy="205.81" r="2.25" fill="#e8b04a"/>
<circle cx="474.7" cy="207.13" r="2.25" fill="#e8b04a"/>
<circle cx="474.7" cy="208.45" r="2.25" fill="#e8b04a"/>
<circle cx="474.7" cy="209.76" r="2.25" fill="#e8b04a"/>
<circle cx="474.7" cy="211.08" r="2.25" fill="#e8b04a"/>
<circle cx="474.7" cy="212.4" r="2.25" fill="#e8b04a"/>
<circle cx="474.7" cy="227" r="2.25" fill="#e8b04a"/>
<circle cx="474.7" cy="228.38" r="2.25" fill="#e8b04a"/>
<circle cx="474.7" cy="229.75" r="2.25" fill="#e8b04a"/>
<circle cx="474.7" cy="231.12" r="2.25" fill="#e8b04a"/>
<circle cx="474.7" cy="232.5" r="2.25" fill="#e8b04a"/>
<circle cx="474.7" cy="248.1" r="2.25" fill="#e8b04a"/>
<circle cx="474.7" cy="253.6" r="2.25" fill="#e8b04a"/>
<circle cx="474.7" cy="279.7" r="2.25" fill="#e8b04a"/>
<line x1="474.7" y1="214.5" x2="474.7" y2="216.1" stroke="#e8b04a" stroke-width="1" />
<line x1="474.7" y1="220.3" x2="474.7" y2="224" stroke="#e8b04a" stroke-width="1" />
<rect x="469.7" y="216.1" width="10" height="4.2" fill="none" stroke="#e8b04a" stroke-width="1"/>
<line x1="469.7" y1="217.6" x2="479.7" y2="217.6" stroke="#e8b04a" stroke-width="2" />
<circle cx="486.7" cy="172.6" r="2.25" fill="#8e6b8a"/>
<circle cx="486.7" cy="188.6" r="2.25" fill="#8e6b8a"/>
<circle cx="486.7" cy="190.6" r="2.25" fill="#8e6b8a"/>
<line x1="486.7" y1="201" x2="486.7" y2="210.3" stroke="#8e6b8a" stroke-width="1" />
<line x1="486.7" y1="220" x2="486.7" y2="226.9" stroke="#8e6b8a" stroke-width="1" />
<rect x="481.7" y="210.3" width="10" height="9.7" fill="none" stroke="#8e6b8a" stroke-width="1"/>
<line x1="481.7" y1="219.3" x2="491.7" y2="219.3" stroke="#8e6b8a" stroke-width="2" />
<circle cx="507.4" cy="174.9" r="2.25" fill="#5f9d89"/>
<line x1="507.4" y1="186.8" x2="507.4" y2="207.6" stroke="#5f9d89" stroke-width="1" />
<line x1="507.4" y1="228.4" x2="507.4" y2="257.5" stroke="#5f9d89" stroke-width="1" />
<rect x="502.4" y="207.6" width="10" height="20.8" fill="none" stroke="#5f9d89" stroke-width="1"/>
<line x1="502.4" y1="217.7" x2="512.4" y2="217.7" stroke="#5f9d89" stroke-width="2" />
<circle cx="519.4" cy="156.1" r="2.25" fill="#e8b04a"/>
<circle cx="519.4" cy="180.7" r="2.25" fill="#e8b04a"/>
<circle cx="519.4" cy="187.3" r="2.25" fill="#e8b04a"/>
<circle cx="519.4" cy="259.8" r="2.25" fill="#e8b04a"/>
<circle cx="519.4" cy="261.18" r="2.25" fill="#e8b04a"/>
<circle cx="519.4" cy="262.56" r="2.25" fill="#e8b04a"/>
<circle cx="519.4" cy="263.94" r="2.25" fill="#e8b04a"/>
<circle cx="519.4" cy="265.32" r="2.25" fill="#e8b04a"/>
<circle cx="519.4" cy="266.7" r="2.25" fill="#e8b04a"/>
<circle cx="519.4" cy="289.6" r="2.25" fill="#e8b04a"/>
<line x1="519.4" y1="200.6" x2="519.4" y2="217.6" stroke="#e8b04a" stroke-width="1" />
<line x1="519.4" y1="233.4" x2="519.4" y2="254.2" stroke="#e8b04a" stroke-width="1" />
<rect x="514.4" y="217.6" width="10" height="15.8" fill="none" stroke="#e8b04a" stroke-width="1"/>
<line x1="514.4" y1="225" x2="524.4" y2="225" stroke="#e8b04a" stroke-width="2" />
<circle cx="531.4" cy="249.4" r="2.25" fill="#8e6b8a"/>
<line x1="531.4" y1="212.3" x2="531.4" y2="221.1" stroke="#8e6b8a" stroke-width="1" />
<line x1="531.4" y1="232.2" x2="531.4" y2="245" stroke="#8e6b8a" stroke-width="1" />
<rect x="526.4" y="221.1" width="10" height="11.1" fill="none" stroke="#8e6b8a" stroke-width="1"/>
<line x1="526.4" y1="227.2" x2="536.4" y2="227.2" stroke="#8e6b8a" stroke-width="2" />
<circle cx="552.1" cy="92.6" r="2.25" fill="#5f9d89"/>
<circle cx="552.1" cy="107.5" r="2.25" fill="#5f9d89"/>
<circle cx="552.1" cy="117.55" r="2.25" fill="#5f9d89"/>
<circle cx="552.1" cy="117.55" r="2.25" fill="#5f9d89"/>
<circle cx="552.1" cy="299.6" r="2.25" fill="#5f9d89"/>
<circle cx="552.1" cy="304.2" r="2.25" fill="#5f9d89"/>
<circle cx="552.1" cy="308.6" r="2.25" fill="#5f9d89"/>
<line x1="552.1" y1="137" x2="552.1" y2="195.6" stroke="#5f9d89" stroke-width="1" />
<line x1="552.1" y1="236.3" x2="552.1" y2="286.5" stroke="#5f9d89" stroke-width="1" />
<rect x="547.1" y="195.6" width="10" height="40.7" fill="none" stroke="#5f9d89" stroke-width="1"/>
<line x1="547.1" y1="215" x2="557.1" y2="215" stroke="#5f9d89" stroke-width="2" />
<circle cx="564.1" cy="46.9" r="2.25" fill="#e8b04a"/>
<circle cx="564.1" cy="82.6" r="2.25" fill="#e8b04a"/>
<circle cx="564.1" cy="94.35" r="2.25" fill="#e8b04a"/>
<circle cx="564.1" cy="94.35" r="2.25" fill="#e8b04a"/>
<circle cx="564.1" cy="100.9" r="2.25" fill="#e8b04a"/>
<circle cx="564.1" cy="109.6" r="2.25" fill="#e8b04a"/>
<circle cx="564.1" cy="141.1" r="2.25" fill="#e8b04a"/>
<circle cx="564.1" cy="142.95" r="2.25" fill="#e8b04a"/>
<circle cx="564.1" cy="144.8" r="2.25" fill="#e8b04a"/>
<circle cx="564.1" cy="154.1" r="2.25" fill="#e8b04a"/>
<circle cx="564.1" cy="155.57" r="2.25" fill="#e8b04a"/>
<circle cx="564.1" cy="157.03" r="2.25" fill="#e8b04a"/>
<circle cx="564.1" cy="158.5" r="2.25" fill="#e8b04a"/>
<circle cx="564.1" cy="166" r="2.25" fill="#e8b04a"/>
<circle cx="564.1" cy="275.9" r="2.25" fill="#e8b04a"/>
<circle cx="564.1" cy="282.9" r="2.25" fill="#e8b04a"/>
<circle cx="564.1" cy="325.3" r="2.25" fill="#e8b04a"/>
<line x1="564.1" y1="169" x2="564.1" y2="208.2" stroke="#e8b04a" stroke-width="1" />
<line x1="564.1" y1="234.3" x2="564.1" y2="270.7" stroke="#e8b04a" stroke-width="1" />
<rect x="559.1" y="208.2" width="10" height="26.1" fill="none" stroke="#e8b04a" stroke-width="1"/>
<line x1="559.1" y1="221.4" x2="569.1" y2="221.4" stroke="#e8b04a" stroke-width="2" />
<circle cx="576.1" cy="23.1" r="2.25" fill="#8e6b8a"/>
<circle cx="576.1" cy="260.1" r="2.25" fill="#8e6b8a"/>
<circle cx="576.1" cy="268" r="2.25" fill="#8e6b8a"/>
<circle cx="576.1" cy="287.4" r="2.25" fill="#8e6b8a"/>
<line x1="576.1" y1="196.4" x2="576.1" y2="216.4" stroke="#8e6b8a" stroke-width="1" />
<line x1="576.1" y1="233.3" x2="576.1" y2="254" stroke="#8e6b8a" stroke-width="1" />
<rect x="571.1" y="216.4" width="10" height="16.9" fill="none" stroke="#8e6b8a" stroke-width="1"/>
<line x1="571.1" y1="225.2" x2="581.1" y2="225.2" stroke="#8e6b8a" stroke-width="2" />
<circle cx="596.8" cy="156" r="2.25" fill="#5f9d89"/>
<circle cx="596.8" cy="171.6" r="2.25" fill="#5f9d89"/>
<circle cx="596.8" cy="258.2" r="2.25" fill="#5f9d89"/>
<line x1="596.8" y1="188.2" x2="596.8" y2="210.6" stroke="#5f9d89" stroke-width="1" />
<line x1="596.8" y1="226.6" x2="596.8" y2="250.7" stroke="#5f9d89" stroke-width="1" />
<rect x="591.8" y="210.6" width="10" height="16" fill="none" stroke="#5f9d89" stroke-width="1"/>
<line x1="591.8" y1="217.8" x2="601.8" y2="217.8" stroke="#5f9d89" stroke-width="2" />
<circle cx="608.8" cy="108.3" r="2.25" fill="#e8b04a"/>
<circle cx="608.8" cy="118.3" r="2.25" fill="#e8b04a"/>
<circle cx="608.8" cy="124.9" r="2.25" fill="#e8b04a"/>
<circle cx="608.8" cy="126.28" r="2.25" fill="#e8b04a"/>
<circle cx="608.8" cy="127.66" r="2.25" fill="#e8b04a"/>
<circle cx="608.8" cy="129.04" r="2.25" fill="#e8b04a"/>
<circle cx="608.8" cy="130.42" r="2.25" fill="#e8b04a"/>
<circle cx="608.8" cy="131.8" r="2.25" fill="#e8b04a"/>
<circle cx="608.8" cy="133.18" r="2.25" fill="#e8b04a"/>
<circle cx="608.8" cy="134.56" r="2.25" fill="#e8b04a"/>
<circle cx="608.8" cy="135.94" r="2.25" fill="#e8b04a"/>
<circle cx="608.8" cy="137.32" r="2.25" fill="#e8b04a"/>
<circle cx="608.8" cy="138.7" r="2.25" fill="#e8b04a"/>
<circle cx="608.8" cy="140.08" r="2.25" fill="#e8b04a"/>
<circle cx="608.8" cy="141.46" r="2.25" fill="#e8b04a"/>
<circle cx="608.8" cy="142.84" r="2.25" fill="#e8b04a"/>
<circle cx="608.8" cy="144.22" r="2.25" fill="#e8b04a"/>
<circle cx="608.8" cy="145.6" r="2.25" fill="#e8b04a"/>
<circle cx="608.8" cy="268.7" r="2.25" fill="#e8b04a"/>
<circle cx="608.8" cy="282.7" r="2.25" fill="#e8b04a"/>
<circle cx="608.8" cy="284.15" r="2.25" fill="#e8b04a"/>
<circle cx="608.8" cy="285.6" r="2.25" fill="#e8b04a"/>
<circle cx="608.8" cy="287.05" r="2.25" fill="#e8b04a"/>
<circle cx="608.8" cy="288.5" r="2.25" fill="#e8b04a"/>
<circle cx="608.8" cy="334.6" r="2.25" fill="#e8b04a"/>
<line x1="608.8" y1="149.8" x2="608.8" y2="191.3" stroke="#e8b04a" stroke-width="1" />
<line x1="608.8" y1="219.9" x2="608.8" y2="257.4" stroke="#e8b04a" stroke-width="1" />
<rect x="603.8" y="191.3" width="10" height="28.6" fill="none" stroke="#e8b04a" stroke-width="1"/>
<line x1="603.8" y1="208.3" x2="613.8" y2="208.3" stroke="#e8b04a" stroke-width="2" />
<circle cx="620.8" cy="150.2" r="2.25" fill="#8e6b8a"/>
<circle cx="620.8" cy="160.2" r="2.25" fill="#8e6b8a"/>
<circle cx="620.8" cy="169.5" r="2.25" fill="#8e6b8a"/>
<circle cx="620.8" cy="333.5" r="2.25" fill="#8e6b8a"/>
<line x1="620.8" y1="182.6" x2="620.8" y2="200.6" stroke="#8e6b8a" stroke-width="1" />
<line x1="620.8" y1="219.9" x2="620.8" y2="228.5" stroke="#8e6b8a" stroke-width="1" />
<rect x="615.8" y="200.6" width="10" height="19.3" fill="none" stroke="#8e6b8a" stroke-width="1"/>
<line x1="615.8" y1="213.1" x2="625.8" y2="213.1" stroke="#8e6b8a" stroke-width="2" />
<circle cx="641.5" cy="167.4" r="2.25" fill="#5f9d89"/>
<circle cx="641.5" cy="183.55" r="2.25" fill="#5f9d89"/>
<circle cx="641.5" cy="183.55" r="2.25" fill="#5f9d89"/>
<line x1="641.5" y1="187.2" x2="641.5" y2="207.3" stroke="#5f9d89" stroke-width="1" />
<line x1="641.5" y1="221.7" x2="641.5" y2="239.7" stroke="#5f9d89" stroke-width="1" />
<rect x="636.5" y="207.3" width="10" height="14.4" fill="none" stroke="#5f9d89" stroke-width="1"/>
<line x1="636.5" y1="215.4" x2="646.5" y2="215.4" stroke="#5f9d89" stroke-width="2" />
<circle cx="653.5" cy="151.2" r="2.25" fill="#e8b04a"/>
<circle cx="653.5" cy="160.6" r="2.25" fill="#e8b04a"/>
<circle cx="653.5" cy="173.1" r="2.25" fill="#e8b04a"/>
<circle cx="653.5" cy="174.4" r="2.25" fill="#e8b04a"/>
<circle cx="653.5" cy="175.7" r="2.25" fill="#e8b04a"/>
<circle cx="653.5" cy="177" r="2.25" fill="#e8b04a"/>
<circle cx="653.5" cy="178.3" r="2.25" fill="#e8b04a"/>
<circle cx="653.5" cy="186.1" r="2.25" fill="#e8b04a"/>
<circle cx="653.5" cy="188.2" r="2.25" fill="#e8b04a"/>
<circle cx="653.5" cy="242.9" r="2.25" fill="#e8b04a"/>
<circle cx="653.5" cy="244.4" r="2.25" fill="#e8b04a"/>
<circle cx="653.5" cy="245.9" r="2.25" fill="#e8b04a"/>
<circle cx="653.5" cy="247.4" r="2.25" fill="#e8b04a"/>
<circle cx="653.5" cy="248.9" r="2.25" fill="#e8b04a"/>
<circle cx="653.5" cy="250.4" r="2.25" fill="#e8b04a"/>
<circle cx="653.5" cy="251.9" r="2.25" fill="#e8b04a"/>
<line x1="653.5" y1="191.2" x2="653.5" y2="209.5" stroke="#e8b04a" stroke-width="1" />
<line x1="653.5" y1="223" x2="653.5" y2="241" stroke="#e8b04a" stroke-width="1" />
<rect x="648.5" y="209.5" width="10" height="13.5" fill="none" stroke="#e8b04a" stroke-width="1"/>
<line x1="648.5" y1="216" x2="658.5" y2="216" stroke="#e8b04a" stroke-width="2" />
<line x1="665.5" y1="202.8" x2="665.5" y2="213.3" stroke="#8e6b8a" stroke-width="1" />
<line x1="665.5" y1="224.8" x2="665.5" y2="231.6" stroke="#8e6b8a" stroke-width="1" />
<rect x="660.5" y="213.3" width="10" height="11.5" fill="none" stroke="#8e6b8a" stroke-width="1"/>
<line x1="660.5" y1="219" x2="670.5" y2="219" stroke="#8e6b8a" stroke-width="2" />
<line x1="51.05" y1="220.4" x2="681" y2="220.4" stroke="#000" stroke-width="1.6" stroke-dasharray="1.5 4.12"/>
<text transform="translate(208.4,83.2) scale(1,1.07)" font-size="9.79" text-anchor="middle" fill="#000" font-weight="bold" font-style="italic" >increase</text>
<text transform="translate(208,98.9) scale(1,1.07)" font-size="9.79" text-anchor="middle" fill="#000" font-weight="bold" font-style="italic" >in subclone</text>
<polygon points="250.3,71.1 258.6,105.6 241.5,105.6" fill="#000"/>
<text transform="translate(208.4,317) scale(1,1.07)" font-size="9.79" text-anchor="middle" fill="#000" font-weight="bold" font-style="italic" >decrease</text>
<text transform="translate(208,332.6) scale(1,1.07)" font-size="9.79" text-anchor="middle" fill="#000" font-weight="bold" font-style="italic" >in subclone</text>
<polygon points="241.5,305 258.6,305 250.3,338.9" fill="#000"/>
<text transform="translate(0.5,394.3) scale(1,1.07)" font-size="16.32" text-anchor="start" fill="#000" font-weight="bold" font-style="normal" >b</text>
<line x1="47.5" y1="402.8" x2="47.5" y2="694.5" stroke="#000" stroke-width="1.25" />
<line x1="47" y1="694.5" x2="364.7" y2="694.5" stroke="#000" stroke-width="1.25" />
<line x1="44.8" y1="404.3" x2="47.5" y2="404.3" stroke="#000" stroke-width="1.1" />
<text transform="translate(43.4,407.7) scale(1,1.07)" font-size="9.59" text-anchor="end" fill="#0d0d0d" font-weight="normal" font-style="normal" stroke="#0d0d0d" stroke-width="0.08" >12.5</text>
<line x1="44.8" y1="459.9" x2="47.5" y2="459.9" stroke="#000" stroke-width="1.1" />
<text transform="translate(43.4,463.3) scale(1,1.07)" font-size="9.59" text-anchor="end" fill="#0d0d0d" font-weight="normal" font-style="normal" stroke="#0d0d0d" stroke-width="0.08" >10.0</text>
<line x1="44.8" y1="515.5" x2="47.5" y2="515.5" stroke="#000" stroke-width="1.1" />
<text transform="translate(43.4,518.9) scale(1,1.07)" font-size="9.59" text-anchor="end" fill="#0d0d0d" font-weight="normal" font-style="normal" stroke="#0d0d0d" stroke-width="0.08" >7.5</text>
<line x1="44.8" y1="571.1" x2="47.5" y2="571.1" stroke="#000" stroke-width="1.1" />
<text transform="translate(43.4,574.5) scale(1,1.07)" font-size="9.59" text-anchor="end" fill="#0d0d0d" font-weight="normal" font-style="normal" stroke="#0d0d0d" stroke-width="0.08" >5.0</text>
<line x1="44.8" y1="626.7" x2="47.5" y2="626.7" stroke="#000" stroke-width="1.1" />
<text transform="translate(43.4,630.1) scale(1,1.07)" font-size="9.59" text-anchor="end" fill="#0d0d0d" font-weight="normal" font-style="normal" stroke="#0d0d0d" stroke-width="0.08" >2.5</text>
<line x1="44.8" y1="682.3" x2="47.5" y2="682.3" stroke="#000" stroke-width="1.1" />
<text transform="translate(43.4,685.7) scale(1,1.07)" font-size="9.59" text-anchor="end" fill="#0d0d0d" font-weight="normal" font-style="normal" stroke="#0d0d0d" stroke-width="0.08" >0.0</text>
<line x1="61.7" y1="694.6" x2="61.7" y2="697.3" stroke="#000" stroke-width="1.1" />
<text transform="translate(61.7,705.6) scale(1,1.07)" font-size="9.59" text-anchor="middle" fill="#0d0d0d" font-weight="normal" font-style="normal" stroke="#0d0d0d" stroke-width="0.08" >0.0</text>
<line x1="121.95" y1="694.6" x2="121.95" y2="697.3" stroke="#000" stroke-width="1.1" />
<text transform="translate(121.95,705.6) scale(1,1.07)" font-size="9.59" text-anchor="middle" fill="#0d0d0d" font-weight="normal" font-style="normal" stroke="#0d0d0d" stroke-width="0.08" >2.5</text>
<line x1="182.2" y1="694.6" x2="182.2" y2="697.3" stroke="#000" stroke-width="1.1" />
<text transform="translate(182.2,705.6) scale(1,1.07)" font-size="9.59" text-anchor="middle" fill="#0d0d0d" font-weight="normal" font-style="normal" stroke="#0d0d0d" stroke-width="0.08" >5.0</text>
<line x1="242.45" y1="694.6" x2="242.45" y2="697.3" stroke="#000" stroke-width="1.1" />
<text transform="translate(242.45,705.6) scale(1,1.07)" font-size="9.59" text-anchor="middle" fill="#0d0d0d" font-weight="normal" font-style="normal" stroke="#0d0d0d" stroke-width="0.08" >7.5</text>
<line x1="302.7" y1="694.6" x2="302.7" y2="697.3" stroke="#000" stroke-width="1.1" />
<text transform="translate(302.7,705.6) scale(1,1.07)" font-size="9.59" text-anchor="middle" fill="#0d0d0d" font-weight="normal" font-style="normal" stroke="#0d0d0d" stroke-width="0.08" >10.0</text>
<line x1="362.95" y1="694.6" x2="362.95" y2="697.3" stroke="#000" stroke-width="1.1" />
<text transform="translate(362.95,705.6) scale(1,1.07)" font-size="9.59" text-anchor="middle" fill="#0d0d0d" font-weight="normal" font-style="normal" stroke="#0d0d0d" stroke-width="0.08" >12.5</text>
<line x1="85.5" y1="403.7" x2="85.5" y2="694" stroke="#f0706a" stroke-width="0.9" stroke-dasharray="2 2"/>
<line x1="48.2" y1="659.4" x2="364.5" y2="659.4" stroke="#f0706a" stroke-width="0.9" stroke-dasharray="2 2"/>
<text transform="translate(17.6,549.6) rotate(-90)" font-size="9.8" text-anchor="middle" fill="#0d0d0d" stroke="#0d0d0d" stroke-width="0.08">SBS17 dominant (−<tspan font-family='"Liberation Serif", serif'>log</tspan>10 p−value)</text>
<text x="215" y="717.2" font-size="9.8" text-anchor="middle" fill="#0d0d0d" stroke="#0d0d0d" stroke-width="0.08">Other signatures dominant (−<tspan font-family='"Liberation Serif", serif'>log</tspan>10 p−value)</text>
<circle cx="49.9" cy="390.6" r="2.9" fill="#15a8b8"/>
<text x="50.5" y="394.8" font-size="5.5" text-anchor="middle" fill="#15a8b8" font-weight="bold">a</text>
<text transform="translate(62,394.2) scale(1,1.07)" font-size="9.49" text-anchor="start" fill="#0d0d0d" font-weight="normal" font-style="normal" stroke="#0d0d0d" stroke-width="0.08" >Common</text>
<circle cx="128" cy="390.6" r="2.9" fill="#e5501e"/>
<text x="128.6" y="394.8" font-size="5.5" text-anchor="middle" fill="#e5501e" font-weight="bold">a</text>
<text transform="translate(139.4,394.2) scale(1,1.07)" font-size="9.49" text-anchor="start" fill="#0d0d0d" font-weight="normal" font-style="normal" stroke="#0d0d0d" stroke-width="0.08" >SBS17−specific</text>
<circle cx="235.3" cy="390.6" r="2.9" fill="#e3b30a"/>
<text x="235.9" y="394.8" font-size="5.5" text-anchor="middle" fill="#e3b30a" font-weight="bold">a</text>
<text transform="translate(247.6,394.2) scale(1,1.07)" font-size="9.49" text-anchor="start" fill="#0d0d0d" font-weight="normal" font-style="normal" stroke="#0d0d0d" stroke-width="0.08" >Other signature−specific</text>
<line x1="72.2" y1="612.1" x2="82" y2="605.6" stroke="#e5501e" stroke-width="0.7" />
<line x1="335.8" y1="419.7" x2="350.6" y2="415.3" stroke="#15a8b8" stroke-width="0.7" />
<line x1="99.7" y1="668.5" x2="96.2" y2="679.9" stroke="#e3b30a" stroke-width="0.7" />
<line x1="77" y1="676.4" x2="86.2" y2="679.9" stroke="#e3b30a" stroke-width="0.7" />
<line x1="84.4" y1="687.7" x2="88.8" y2="683.4" stroke="#e3b30a" stroke-width="0.7" />
<circle cx="62.1" cy="487.3" r="2.45" fill="#e5501e"/>
<circle cx="62.1" cy="518.7" r="2.45" fill="#e5501e"/>
<circle cx="82.5" cy="539.9" r="2.45" fill="#e5501e"/>
<circle cx="62.1" cy="556.2" r="2.45" fill="#e5501e"/>
<circle cx="62.1" cy="574.6" r="2.45" fill="#e5501e"/>
<circle cx="72.2" cy="612.1" r="2.45" fill="#e5501e"/>
<circle cx="62" cy="615.3" r="2.45" fill="#e5501e"/>
<circle cx="62" cy="617.8" r="2.45" fill="#e5501e"/>
<circle cx="77.9" cy="620.6" r="2.45" fill="#e5501e"/>
<circle cx="62" cy="639" r="2.45" fill="#e5501e"/>
<circle cx="62" cy="642.4" r="2.45" fill="#e5501e"/>
<circle cx="62" cy="650.3" r="2.45" fill="#e5501e"/>
<circle cx="62" cy="652.4" r="2.45" fill="#e5501e"/>
<circle cx="62" cy="654.3" r="2.45" fill="#e5501e"/>
<circle cx="62" cy="656" r="2.45" fill="#e5501e"/>
<circle cx="64.9" cy="655" r="2.45" fill="#e5501e"/>
<circle cx="121.2" cy="519.7" r="2.45" fill="#15a8b8"/>
<circle cx="122.2" cy="625" r="2.45" fill="#15a8b8"/>
<circle cx="108.1" cy="638.8" r="2.45" fill="#15a8b8"/>
<circle cx="148.9" cy="642.3" r="2.45" fill="#15a8b8"/>
<circle cx="350.6" cy="415.3" r="2.45" fill="#15a8b8"/>
<circle cx="350.6" cy="459.5" r="2.45" fill="#15a8b8"/>
<circle cx="350.4" cy="552.5" r="2.45" fill="#15a8b8"/>
<circle cx="90.2" cy="681.3" r="2.45" fill="#e3b30a"/>
<circle cx="91.7" cy="681.3" r="2.45" fill="#e3b30a"/>
<circle cx="93.1" cy="681.3" r="2.45" fill="#e3b30a"/>
<circle cx="94.5" cy="681.3" r="2.45" fill="#e3b30a"/>
<circle cx="111" cy="681.6" r="2.45" fill="#e3b30a"/>
<circle cx="113.5" cy="680.2" r="2.45" fill="#e3b30a"/>
<text transform="translate(55.2,498.2) scale(1,1.07)" font-size="9.18" text-anchor="start" fill="#e5501e" font-weight="normal" font-style="normal" stroke="#e5501e" stroke-width="0.08" >PPP6C</text>
<text transform="translate(54.5,515) scale(1,1.07)" font-size="9.18" text-anchor="start" fill="#e5501e" font-weight="normal" font-style="normal" stroke="#e5501e" stroke-width="0.08" >KMT2D</text>
<text transform="translate(77.4,535.8) scale(1,1.07)" font-size="9.18" text-anchor="start" fill="#e5501e" font-weight="normal" font-style="normal" stroke="#e5501e" stroke-width="0.08" >ARID2</text>
<text transform="translate(63,552.3) scale(1,1.07)" font-size="9.18" text-anchor="start" fill="#e5501e" font-weight="normal" font-style="normal" stroke="#e5501e" stroke-width="0.08" >KIT</text>
<text transform="translate(61.1,570.5) scale(1,1.07)" font-size="9.18" text-anchor="start" fill="#e5501e" font-weight="normal" font-style="normal" stroke="#e5501e" stroke-width="0.08" >RET</text>
<text transform="translate(51.1,608) scale(1,1.07)" font-size="9.18" text-anchor="start" fill="#e5501e" font-weight="normal" font-style="normal" stroke="#e5501e" stroke-width="0.08" >PRCC</text>
<text transform="translate(82.7,608) scale(1,1.07)" font-size="9.18" text-anchor="start" fill="#e5501e" font-weight="normal" font-style="normal" stroke="#e5501e" stroke-width="0.08" >CDKN2A.p14arf</text>
<text transform="translate(55.2,627.7) scale(1,1.07)" font-size="9.18" text-anchor="start" fill="#e5501e" font-weight="normal" font-style="normal" stroke="#e5501e" stroke-width="0.08" >ZNF521</text>
<text transform="translate(78.3,634.7) scale(1,1.07)" font-size="9.18" text-anchor="start" fill="#e5501e" font-weight="normal" font-style="normal" stroke="#e5501e" stroke-width="0.08" >SMARCA4</text>
<text transform="translate(51.1,636.1) scale(1,1.07)" font-size="9.18" text-anchor="start" fill="#e5501e" font-weight="normal" font-style="normal" stroke="#e5501e" stroke-width="0.08" >NFIB</text>
<text transform="translate(66.9,649.2) scale(1,1.07)" font-size="9.18" text-anchor="start" fill="#e5501e" font-weight="normal" font-style="normal" stroke="#e5501e" stroke-width="0.08" >BIRC3</text>
<text transform="translate(117.6,530.1) scale(1,1.07)" font-size="9.18" text-anchor="start" fill="#15a8b8" font-weight="normal" font-style="normal" stroke="#15a8b8" stroke-width="0.08" >PTEN</text>
<text transform="translate(120.9,620.6) scale(1,1.07)" font-size="9.18" text-anchor="start" fill="#15a8b8" font-weight="normal" font-style="normal" stroke="#15a8b8" stroke-width="0.08" >APC</text>
<text transform="translate(100.7,649.2) scale(1,1.07)" font-size="9.18" text-anchor="start" fill="#15a8b8" font-weight="normal" font-style="normal" stroke="#15a8b8" stroke-width="0.08" >FBXW7</text>
<text transform="translate(141,638.1) scale(1,1.07)" font-size="9.18" text-anchor="start" fill="#15a8b8" font-weight="normal" font-style="normal" stroke="#15a8b8" stroke-width="0.08" >PIK3CA</text>
<text transform="translate(313.6,411.7) scale(1,1.07)" font-size="9.18" text-anchor="start" fill="#15a8b8" font-weight="normal" font-style="normal" stroke="#15a8b8" stroke-width="0.08" >ARID1A</text>
<text transform="translate(252.9,424.8) scale(1,1.07)" font-size="9.18" text-anchor="start" fill="#15a8b8" font-weight="normal" font-style="normal" stroke="#15a8b8" stroke-width="0.08" >CDKN2A.p16INK4a</text>
<text transform="translate(340.6,425.7) scale(1,1.07)" font-size="9.18" text-anchor="start" fill="#15a8b8" font-weight="normal" font-style="normal" stroke="#15a8b8" stroke-width="0.08" >TP53</text>
<text transform="translate(326.9,455.3) scale(1,1.07)" font-size="9.18" text-anchor="start" fill="#15a8b8" font-weight="normal" font-style="normal" stroke="#15a8b8" stroke-width="0.08" >SMAD4</text>
<text transform="translate(330.7,548.3) scale(1,1.07)" font-size="9.18" text-anchor="start" fill="#15a8b8" font-weight="normal" font-style="normal" stroke="#15a8b8" stroke-width="0.08" >KRAS</text>
<text transform="translate(81.8,666.7) scale(1,1.07)" font-size="9.18" text-anchor="start" fill="#e3b30a" font-weight="normal" font-style="normal" stroke="#e3b30a" stroke-width="0.08" >SETBP1</text>
<text transform="translate(51.1,679) scale(1,1.07)" font-size="9.18" text-anchor="start" fill="#e3b30a" font-weight="normal" font-style="normal" stroke="#e3b30a" stroke-width="0.08" >STRN</text>
<text transform="translate(60.8,691.2) scale(1,1.07)" font-size="9.18" text-anchor="start" fill="#e3b30a" font-weight="normal" font-style="normal" stroke="#e3b30a" stroke-width="0.08" >CDH1</text>
<text transform="translate(94.9,691.2) scale(1,1.07)" font-size="9.18" text-anchor="start" fill="#e3b30a" font-weight="normal" font-style="normal" stroke="#e3b30a" stroke-width="0.08" >FEV</text>
<text transform="translate(118.9,678.6) scale(1,1.07)" font-size="9.18" text-anchor="start" fill="#e3b30a" font-weight="normal" font-style="normal" stroke="#e3b30a" stroke-width="0.08" >CDX2</text>
<text transform="translate(397,392.6) scale(1,1.07)" font-size="16.32" text-anchor="start" fill="#000" font-weight="bold" font-style="normal" >c</text>
<rect x="419.1" y="383.8" width="116.4" height="14.2" fill="#ededed" stroke="#000" stroke-width="1.1"/>
<text transform="translate(477.3,394.6) scale(1,1.07)" font-size="9.79" text-anchor="middle" fill="#0d0d0d" font-weight="normal" font-style="normal" stroke="#0d0d0d" stroke-width="0.08" >Ploidy</text>
<line x1="420.2" y1="485.5" x2="537" y2="485.5" stroke="#9a9a9a" stroke-width="0.9" />
<line x1="419.5" y1="398" x2="419.5" y2="484.8" stroke="#444" stroke-width="1.0" />
<line x1="416.7" y1="417" x2="419.5" y2="417" stroke="#444" stroke-width="1.0" />
<text transform="translate(415,420.1) scale(1,1.07)" font-size="8.98" text-anchor="end" fill="#0d0d0d" font-weight="normal" font-style="normal" stroke="#0d0d0d" stroke-width="0.08" >6</text>
<line x1="416.7" y1="440" x2="419.5" y2="440" stroke="#444" stroke-width="1.0" />
<text transform="translate(415,443.1) scale(1,1.07)" font-size="8.98" text-anchor="end" fill="#0d0d0d" font-weight="normal" font-style="normal" stroke="#0d0d0d" stroke-width="0.08" >4</text>
<line x1="416.7" y1="463.2" x2="419.5" y2="463.2" stroke="#444" stroke-width="1.0" />
<text transform="translate(415,466.3) scale(1,1.07)" font-size="8.98" text-anchor="end" fill="#0d0d0d" font-weight="normal" font-style="normal" stroke="#0d0d0d" stroke-width="0.08" >2</text>
<path d="M450.8,417.6 C450.88,417.69 450.97,417.89 451.3,418.16 C451.63,418.43 452.05,418.41 452.8,419.2 C453.55,419.99 455.2,421.6 455.8,422.9 C456.4,424.2 456.2,425.65 456.4,427 C456.6,428.35 456.63,429.6 457,431 C457.37,432.4 457.13,433.63 458.6,435.4 C460.07,437.17 463.37,439.53 465.8,441.6 C468.23,443.67 471.6,446.03 473.2,447.8 C474.8,449.57 475.55,450.75 475.4,452.2 C475.25,453.65 473.33,455.2 472.3,456.5 C471.27,457.8 469.75,458.85 469.2,460 C468.65,461.15 469.78,462.32 469,463.4 C468.22,464.48 466.45,465.47 464.5,466.5 C462.55,467.53 459.22,468.72 457.3,469.6 C455.38,470.48 453.99,471.28 453,471.8 C452.01,472.32 451.72,472.48 451.35,472.71 C450.98,472.94 450.89,473.12 450.8,473.2 C450.71,473.12 450.62,472.94 450.25,472.71 C449.88,472.48 449.59,472.32 448.6,471.8 C447.61,471.28 446.22,470.48 444.3,469.6 C442.38,468.72 439.05,467.53 437.1,466.5 C435.15,465.47 433.38,464.48 432.6,463.4 C431.82,462.32 432.95,461.15 432.4,460 C431.85,458.85 430.33,457.8 429.3,456.5 C428.27,455.2 426.35,453.65 426.2,452.2 C426.05,450.75 426.8,449.57 428.4,447.8 C430,446.03 433.37,443.67 435.8,441.6 C438.23,439.53 441.53,437.17 443,435.4 C444.47,433.63 444.23,432.4 444.6,431 C444.97,429.6 445,428.35 445.2,427 C445.4,425.65 445.2,424.2 445.8,422.9 C446.4,421.6 448.05,419.99 448.8,419.2 C449.55,418.41 449.97,418.43 450.3,418.16 C450.63,417.89 450.72,417.69 450.8,417.6Z" fill="#e64b35" stroke="#000" stroke-width="0.9" stroke-linejoin="round"/>
<line x1="450.8" y1="410.5" x2="450.8" y2="477" stroke="#1a0a08" stroke-width="0.9" />
<rect x="445.8" y="444.1" width="10.3" height="14.7" fill="#fff" stroke="#000" stroke-width="0.9"/>
<line x1="445.8" y1="452.4" x2="456.1" y2="452.4" stroke="#000" stroke-width="0.9" />
<circle cx="450.8" cy="420" r="1.3" fill="#000"/>
<path d="M503.6,416.5 C503.66,416.66 503.73,417 503.98,417.44 C504.23,417.89 504.76,418.29 505.1,419.2 C505.44,420.11 505.82,421.25 506,422.9 C506.18,424.55 505.95,427.65 506.2,429.1 C506.45,430.55 506.68,430.55 507.5,431.6 C508.32,432.65 509.67,433.73 511.1,435.4 C512.53,437.07 514.75,439.53 516.1,441.6 C517.45,443.67 518.53,445.73 519.2,447.8 C519.87,449.87 519.17,452.33 520.1,454 C521.03,455.67 523.12,456.33 524.8,457.8 C526.48,459.27 530.2,461.35 530.2,462.8 C530.2,464.25 527.57,465.27 524.8,466.5 C522.03,467.73 516.8,468.95 513.6,470.2 C510.4,471.45 507.18,473.2 505.6,474 C504.02,474.8 504.43,474.73 504.1,474.98 C503.77,475.23 503.68,475.41 503.6,475.5 C503.52,475.41 503.43,475.23 503.1,474.98 C502.77,474.73 503.18,474.8 501.6,474 C500.02,473.2 496.8,471.45 493.6,470.2 C490.4,468.95 485.17,467.73 482.4,466.5 C479.63,465.27 477,464.25 477,462.8 C477,461.35 480.72,459.27 482.4,457.8 C484.08,456.33 486.17,455.67 487.1,454 C488.03,452.33 487.33,449.87 488,447.8 C488.67,445.73 489.75,443.67 491.1,441.6 C492.45,439.53 494.67,437.07 496.1,435.4 C497.53,433.73 498.88,432.65 499.7,431.6 C500.52,430.55 500.75,430.55 501,429.1 C501.25,427.65 501.02,424.55 501.2,422.9 C501.38,421.25 501.76,420.11 502.1,419.2 C502.44,418.29 502.98,417.89 503.23,417.44 C503.48,417 503.54,416.66 503.6,416.5Z" fill="#4dbbd5" stroke="#000" stroke-width="0.9" stroke-linejoin="round"/>
<line x1="503.6" y1="402.4" x2="503.6" y2="480.8" stroke="#1a0a08" stroke-width="0.9" />
<rect x="498.4" y="446.8" width="10.5" height="16.2" fill="#fff" stroke="#000" stroke-width="0.9"/>
<line x1="498.4" y1="454.7" x2="508.9" y2="454.7" stroke="#000" stroke-width="0.9" />
<circle cx="503.6" cy="413.6" r="1.3" fill="#000"/>
<path d="M450.8,410 L450.8,410 L503.6,410 L503.6,410" fill="none" stroke="#8a8a8a" stroke-width="0.7"/>
<text transform="translate(476,408.6) scale(1,1.07)" font-size="9.59" text-anchor="middle" fill="#555" font-weight="normal" font-style="normal" stroke="#555" stroke-width="0.08" >0.0039</text>
<rect x="563.3" y="383.9" width="119.2" height="13.8" fill="#ededed" stroke="#000" stroke-width="1.3"/>
<text transform="translate(622.9,395.4) scale(1,1.07)" font-size="9.79" text-anchor="middle" fill="#0d0d0d" font-weight="normal" font-style="normal" stroke="#0d0d0d" stroke-width="0.08" >CIN score</text>
<line x1="564.5" y1="397.7" x2="564.5" y2="485" stroke="#000" stroke-width="1.9" />
<line x1="563.6" y1="485" x2="684" y2="485" stroke="#000" stroke-width="1.9" />
<line x1="561.8" y1="403.6" x2="564.4" y2="403.6" stroke="#000" stroke-width="1.4" />
<text transform="translate(560,406.7) scale(1,1.07)" font-size="8.98" text-anchor="end" fill="#0d0d0d" font-weight="normal" font-style="normal" stroke="#0d0d0d" stroke-width="0.08" >3</text>
<line x1="561.8" y1="417.8" x2="564.4" y2="417.8" stroke="#000" stroke-width="1.4" />
<text transform="translate(560,420.9) scale(1,1.07)" font-size="8.98" text-anchor="end" fill="#0d0d0d" font-weight="normal" font-style="normal" stroke="#0d0d0d" stroke-width="0.08" >2</text>
<line x1="561.8" y1="431.7" x2="564.4" y2="431.7" stroke="#000" stroke-width="1.4" />
<text transform="translate(560,434.8) scale(1,1.07)" font-size="8.98" text-anchor="end" fill="#0d0d0d" font-weight="normal" font-style="normal" stroke="#0d0d0d" stroke-width="0.08" >1</text>
<line x1="561.8" y1="445.9" x2="564.4" y2="445.9" stroke="#000" stroke-width="1.4" />
<text transform="translate(560,449) scale(1,1.07)" font-size="8.98" text-anchor="end" fill="#0d0d0d" font-weight="normal" font-style="normal" stroke="#0d0d0d" stroke-width="0.08" >0</text>
<line x1="561.8" y1="460.1" x2="564.4" y2="460.1" stroke="#000" stroke-width="1.4" />
<text transform="translate(560,463.2) scale(1,1.07)" font-size="8.98" text-anchor="end" fill="#0d0d0d" font-weight="normal" font-style="normal" stroke="#0d0d0d" stroke-width="0.08" >−1</text>
<line x1="561.8" y1="474.1" x2="564.4" y2="474.1" stroke="#000" stroke-width="1.4" />
<text transform="translate(560,477.2) scale(1,1.07)" font-size="8.98" text-anchor="end" fill="#0d0d0d" font-weight="normal" font-style="normal" stroke="#0d0d0d" stroke-width="0.08" >−2</text>
<path d="M597,406 C597.09,406.26 597.18,406.82 597.55,407.57 C597.92,408.32 598.62,408.98 599.2,410.5 C599.78,412.02 599.77,414.63 601,416.7 C602.23,418.77 604.27,420.83 606.6,422.9 C608.93,424.97 612.4,427.02 615,429.1 C617.6,431.18 620.7,433.53 622.2,435.4 C623.7,437.27 624.37,438.65 624,440.3 C623.63,441.95 622.12,443.43 620,445.3 C617.88,447.17 613.88,449.42 611.3,451.5 C608.72,453.58 605.53,455.92 604.5,457.8 C603.47,459.68 605.05,461.35 605.1,462.8 C605.15,464.25 605.48,465.27 604.8,466.5 C604.12,467.73 602.05,469.17 601,470.2 C599.95,471.23 599.1,472.09 598.5,472.7 C597.9,473.31 597.62,473.57 597.38,473.87 C597.12,474.17 597.06,474.39 597,474.5 C596.94,474.39 596.88,474.17 596.62,473.87 C596.38,473.57 596.1,473.31 595.5,472.7 C594.9,472.09 594.05,471.23 593,470.2 C591.95,469.17 589.88,467.73 589.2,466.5 C588.52,465.27 588.85,464.25 588.9,462.8 C588.95,461.35 590.53,459.68 589.5,457.8 C588.47,455.92 585.28,453.58 582.7,451.5 C580.12,449.42 576.12,447.17 574,445.3 C571.88,443.43 570.37,441.95 570,440.3 C569.63,438.65 570.3,437.27 571.8,435.4 C573.3,433.53 576.4,431.18 579,429.1 C581.6,427.02 585.07,424.97 587.4,422.9 C589.73,420.83 591.77,418.77 593,416.7 C594.23,414.63 594.22,412.02 594.8,410.5 C595.38,408.98 596.08,408.32 596.45,407.57 C596.82,406.82 596.91,406.26 597,406Z" fill="#e64b35" stroke="#000" stroke-width="1.8" stroke-linejoin="round"/>
<line x1="597" y1="401.7" x2="597" y2="477.1" stroke="#1a0a08" stroke-width="1.7" />
<rect x="591.4" y="433.9" width="11" height="15.2" fill="#fff" stroke="#000" stroke-width="1.7"/>
<line x1="591.4" y1="441.6" x2="602.4" y2="441.6" stroke="#000" stroke-width="2.8" />
<path d="M650.8,408.6 C650.86,408.93 650.92,409.63 651.17,410.56 C651.42,411.49 651.9,412.98 652.3,414.2 C652.7,415.42 652.4,416.45 653.6,417.9 C654.8,419.35 657.32,421.03 659.5,422.9 C661.68,424.77 664.83,427.02 666.7,429.1 C668.57,431.18 669.9,433.53 670.7,435.4 C671.5,437.27 671.6,438.65 671.5,440.3 C671.4,441.95 671.07,443.43 670.1,445.3 C669.13,447.17 666.37,449.42 665.7,451.5 C665.03,453.58 665.93,455.92 666.1,457.8 C666.27,459.68 667.48,461.15 666.7,462.8 C665.92,464.45 663.38,466.05 661.4,467.7 C659.42,469.35 656.4,471.23 654.8,472.7 C653.2,474.17 652.42,475.7 651.8,476.5 C651.17,477.3 651.22,477.23 651.05,477.48 C650.88,477.73 650.84,477.91 650.8,478 C650.76,477.91 650.72,477.73 650.55,477.48 C650.38,477.23 650.42,477.3 649.8,476.5 C649.17,475.7 648.4,474.17 646.8,472.7 C645.2,471.23 642.18,469.35 640.2,467.7 C638.22,466.05 635.68,464.45 634.9,462.8 C634.12,461.15 635.33,459.68 635.5,457.8 C635.67,455.92 636.57,453.58 635.9,451.5 C635.23,449.42 632.47,447.17 631.5,445.3 C630.53,443.43 630.2,441.95 630.1,440.3 C630,438.65 630.1,437.27 630.9,435.4 C631.7,433.53 633.03,431.18 634.9,429.1 C636.77,427.02 639.92,424.77 642.1,422.9 C644.28,421.03 646.8,419.35 648,417.9 C649.2,416.45 648.9,415.42 649.3,414.2 C649.7,412.98 650.17,411.49 650.42,410.56 C650.67,409.63 650.74,408.93 650.8,408.6Z" fill="#4dbbd5" stroke="#000" stroke-width="1.8" stroke-linejoin="round"/>
<line x1="650.8" y1="408.6" x2="650.8" y2="421.7" stroke="#000" stroke-width="1.7" />
<line x1="650.8" y1="475.5" x2="650.8" y2="481.4" stroke="#000" stroke-width="1.7" />
<line x1="650.8" y1="421.7" x2="650.8" y2="467.7" stroke="#1a0a08" stroke-width="1.7" />
<rect x="645.6" y="436.4" width="10.7" height="20.1" fill="#fff" stroke="#000" stroke-width="1.7"/>
<line x1="645.6" y1="445.1" x2="656.3" y2="445.1" stroke="#000" stroke-width="2.8" />
<path d="M597,407.2 L597,407.2 L650.8,407.2 L650.8,407.2" fill="none" stroke="#8a8a8a" stroke-width="0.7"/>
<text transform="translate(623,406) scale(1,1.07)" font-size="9.59" text-anchor="middle" fill="#555" font-weight="normal" font-style="normal" stroke="#555" stroke-width="0.08" >0.0033</text>
<rect x="418.6" y="491.6" width="118.5" height="15.7" fill="#ededed" stroke="#000" stroke-width="1.1"/>
<text transform="translate(477.85,503.1) scale(1,1.07)" font-size="9.79" text-anchor="middle" fill="#0d0d0d" font-weight="normal" font-style="normal" stroke="#0d0d0d" stroke-width="0.08" >DDR</text>
<line x1="418.5" y1="593.5" x2="537.5" y2="593.5" stroke="#111" stroke-width="1.0" />
<line x1="418.5" y1="507.3" x2="418.5" y2="593.5" stroke="#111" stroke-width="1.0" />
<line x1="415.7" y1="521.2" x2="418.5" y2="521.2" stroke="#111" stroke-width="1.0" />
<text transform="translate(413.2,525.4) scale(1,1.07)" font-size="8.98" text-anchor="end" fill="#0d0d0d" font-weight="normal" font-style="normal" stroke="#0d0d0d" stroke-width="0.08" >1.0</text>
<line x1="415.7" y1="534.9" x2="418.5" y2="534.9" stroke="#111" stroke-width="1.0" />
<text transform="translate(413.2,539.1) scale(1,1.07)" font-size="8.98" text-anchor="end" fill="#0d0d0d" font-weight="normal" font-style="normal" stroke="#0d0d0d" stroke-width="0.08" >0.5</text>
<line x1="415.7" y1="548.6" x2="418.5" y2="548.6" stroke="#111" stroke-width="1.0" />
<text transform="translate(413.2,552.8) scale(1,1.07)" font-size="8.98" text-anchor="end" fill="#0d0d0d" font-weight="normal" font-style="normal" stroke="#0d0d0d" stroke-width="0.08" >0.0</text>
<line x1="415.7" y1="562.3" x2="418.5" y2="562.3" stroke="#111" stroke-width="1.0" />
<text transform="translate(413.2,566.5) scale(1,1.07)" font-size="8.98" text-anchor="end" fill="#0d0d0d" font-weight="normal" font-style="normal" stroke="#0d0d0d" stroke-width="0.08" >−0.5</text>
<line x1="415.7" y1="575.6" x2="418.5" y2="575.6" stroke="#111" stroke-width="1.0" />
<text transform="translate(413.2,579.8) scale(1,1.07)" font-size="8.98" text-anchor="end" fill="#0d0d0d" font-weight="normal" font-style="normal" stroke="#0d0d0d" stroke-width="0.08" >−1.0</text>
<line x1="415.7" y1="589.1" x2="418.5" y2="589.1" stroke="#111" stroke-width="1.0" />
<text transform="translate(413.2,593.3) scale(1,1.07)" font-size="8.98" text-anchor="end" fill="#0d0d0d" font-weight="normal" font-style="normal" stroke="#0d0d0d" stroke-width="0.08" >−1.5</text>
<path d="M451.1,517.2 C451.2,517.35 451.31,517.66 451.73,518.08 C452.14,518.49 452.67,518.81 453.6,519.7 C454.53,520.59 454.87,521.95 457.3,523.4 C459.73,524.85 465.13,526.73 468.2,528.4 C471.27,530.07 475.02,531.73 475.7,533.4 C476.38,535.07 474.12,536.53 472.3,538.4 C470.48,540.27 466.37,542.53 464.8,544.6 C463.23,546.67 462.43,548.72 462.9,550.8 C463.37,552.88 465.85,554.82 467.6,557.1 C469.35,559.38 473.03,562.43 473.4,564.5 C473.77,566.57 472.27,567.63 469.8,569.5 C467.33,571.37 461.38,574.12 458.6,575.7 C455.82,577.28 454.27,578.29 453.1,579 C451.93,579.71 451.93,579.73 451.6,579.98 C451.27,580.23 451.18,580.41 451.1,580.5 C451.02,580.41 450.93,580.23 450.6,579.98 C450.27,579.73 450.27,579.71 449.1,579 C447.93,578.29 446.38,577.28 443.6,575.7 C440.82,574.12 434.87,571.37 432.4,569.5 C429.93,567.63 428.43,566.57 428.8,564.5 C429.17,562.43 432.85,559.38 434.6,557.1 C436.35,554.82 438.83,552.88 439.3,550.8 C439.77,548.72 438.97,546.67 437.4,544.6 C435.83,542.53 431.72,540.27 429.9,538.4 C428.08,536.53 425.82,535.07 426.5,533.4 C427.18,531.73 430.93,530.07 434,528.4 C437.07,526.73 442.47,524.85 444.9,523.4 C447.33,521.95 447.67,520.59 448.6,519.7 C449.53,518.81 450.06,518.49 450.48,518.08 C450.89,517.66 451,517.35 451.1,517.2Z" fill="#e64b35" stroke="#000" stroke-width="0.9" stroke-linejoin="round"/>
<line x1="451.1" y1="513.2" x2="451.1" y2="518.5" stroke="#000" stroke-width="1.25" />
<line x1="451.1" y1="579.5" x2="451.1" y2="585.7" stroke="#000" stroke-width="1.25" />
<line x1="451.1" y1="524.7" x2="451.1" y2="571.4" stroke="#1a0a08" stroke-width="1.25" />
<rect x="445.6" y="534.6" width="10.8" height="28.7" fill="#fff" stroke="#000" stroke-width="0.9"/>
<line x1="445.6" y1="546.8" x2="456.4" y2="546.8" stroke="#000" stroke-width="1.7" />
<path d="M504.9,517 C505,517.16 505.11,517.5 505.52,517.95 C505.94,518.4 506.57,518.57 507.4,519.7 C508.23,520.83 509.2,522.83 510.5,524.7 C511.8,526.57 513.8,528.83 515.2,530.9 C516.6,532.97 518.02,535.02 518.9,537.1 C519.78,539.18 520.18,541.32 520.5,543.4 C520.82,545.48 520.4,547.53 520.8,549.6 C521.2,551.67 521.6,553.93 522.9,555.8 C524.2,557.67 527.03,558.93 528.6,560.8 C530.17,562.67 532.93,565.13 532.3,567 C531.67,568.87 527.92,570.13 524.8,572 C521.68,573.87 516.58,576.37 513.6,578.2 C510.62,580.03 508.27,582.09 506.9,583 C505.53,583.91 505.73,583.48 505.4,583.65 C505.07,583.82 504.98,583.94 504.9,584 C504.82,583.94 504.73,583.82 504.4,583.65 C504.07,583.48 504.27,583.91 502.9,583 C501.53,582.09 499.18,580.03 496.2,578.2 C493.22,576.37 488.12,573.87 485,572 C481.88,570.13 478.13,568.87 477.5,567 C476.87,565.13 479.63,562.67 481.2,560.8 C482.77,558.93 485.6,557.67 486.9,555.8 C488.2,553.93 488.6,551.67 489,549.6 C489.4,547.53 488.98,545.48 489.3,543.4 C489.62,541.32 490.02,539.18 490.9,537.1 C491.78,535.02 493.2,532.97 494.6,530.9 C496,528.83 498,526.57 499.3,524.7 C500.6,522.83 501.57,520.83 502.4,519.7 C503.23,518.57 503.86,518.4 504.27,517.95 C504.69,517.5 504.8,517.16 504.9,517Z" fill="#4dbbd5" stroke="#000" stroke-width="0.9" stroke-linejoin="round"/>
<line x1="504.9" y1="511.6" x2="504.9" y2="518.5" stroke="#000" stroke-width="1.25" />
<line x1="504.9" y1="583" x2="504.9" y2="588.8" stroke="#000" stroke-width="1.25" />
<line x1="504.9" y1="530.3" x2="504.9" y2="570.8" stroke="#1a0a08" stroke-width="1.25" />
<rect x="499.4" y="544.6" width="11.1" height="22.8" fill="#fff" stroke="#000" stroke-width="0.9"/>
<line x1="499.4" y1="557.3" x2="510.5" y2="557.3" stroke="#000" stroke-width="1.7" />
<path d="M451.1,526 L451.1,524.4 L504.9,524.4 L504.9,526" fill="none" stroke="#8a8a8a" stroke-width="0.7"/>
<text transform="translate(479.3,521.1) scale(1,1.07)" font-size="9.59" text-anchor="middle" fill="#555" font-weight="normal" font-style="normal" stroke="#555" stroke-width="0.08" >0.0078</text>
<rect x="564.3" y="491.8" width="119.2" height="15.4" fill="#ededed" stroke="#000" stroke-width="1.1"/>
<text transform="translate(623.9,503.4) scale(1,1.07)" font-size="9.89" text-anchor="middle" fill="#0d0d0d" font-weight="normal" font-style="normal" stroke="#0d0d0d" stroke-width="0.08" >Telomere maintenance</text>
<line x1="564.5" y1="594.5" x2="684" y2="594.5" stroke="#111" stroke-width="1.0" />
<line x1="564.5" y1="507.2" x2="564.5" y2="594.5" stroke="#111" stroke-width="1.0" />
<line x1="561.7" y1="523.7" x2="564.5" y2="523.7" stroke="#111" stroke-width="1.0" />
<text transform="translate(560.1,527.6) scale(1,1.07)" font-size="8.98" text-anchor="end" fill="#0d0d0d" font-weight="normal" font-style="normal" stroke="#0d0d0d" stroke-width="0.08" >1</text>
<line x1="561.7" y1="549.1" x2="564.5" y2="549.1" stroke="#111" stroke-width="1.0" />
<text transform="translate(560.1,553) scale(1,1.07)" font-size="8.98" text-anchor="end" fill="#0d0d0d" font-weight="normal" font-style="normal" stroke="#0d0d0d" stroke-width="0.08" >0</text>
<line x1="561.7" y1="574.5" x2="564.5" y2="574.5" stroke="#111" stroke-width="1.0" />
<text transform="translate(560.1,578.4) scale(1,1.07)" font-size="8.98" text-anchor="end" fill="#0d0d0d" font-weight="normal" font-style="normal" stroke="#0d0d0d" stroke-width="0.08" >−1</text>
<path d="M597,516.8 C597.08,516.93 597.17,517.22 597.5,517.61 C597.83,517.99 597.95,518.13 599,519.1 C600.05,520.07 601.75,521.85 603.8,523.4 C605.85,524.95 609.58,526.73 611.3,528.4 C613.02,530.07 614.1,531.73 614.1,533.4 C614.1,535.07 612.48,536.73 611.3,538.4 C610.12,540.07 607.3,541.75 607,543.4 C606.7,545.05 608.37,546.65 609.5,548.3 C610.63,549.95 612.77,551.63 613.8,553.3 C614.83,554.97 615.9,556.43 615.7,558.3 C615.5,560.17 614.17,562.42 612.6,564.5 C611.03,566.58 608.33,568.72 606.3,570.8 C604.27,572.88 601.78,575.45 600.4,577 C599.02,578.55 598.52,579.49 598,580.1 C597.48,580.71 597.42,580.54 597.25,580.69 C597.08,580.84 597.04,580.95 597,581 C596.96,580.95 596.92,580.84 596.75,580.69 C596.58,580.54 596.52,580.71 596,580.1 C595.48,579.49 594.98,578.55 593.6,577 C592.22,575.45 589.73,572.88 587.7,570.8 C585.67,568.72 582.97,566.58 581.4,564.5 C579.83,562.42 578.5,560.17 578.3,558.3 C578.1,556.43 579.17,554.97 580.2,553.3 C581.23,551.63 583.37,549.95 584.5,548.3 C585.63,546.65 587.3,545.05 587,543.4 C586.7,541.75 583.88,540.07 582.7,538.4 C581.52,536.73 579.9,535.07 579.9,533.4 C579.9,531.73 580.98,530.07 582.7,528.4 C584.42,526.73 588.15,524.95 590.2,523.4 C592.25,521.85 593.95,520.07 595,519.1 C596.05,518.13 596.17,517.99 596.5,517.61 C596.83,517.22 596.92,516.93 597,516.8Z" fill="#e64b35" stroke="#000" stroke-width="0.9" stroke-linejoin="round"/>
<line x1="597" y1="511.6" x2="597" y2="518" stroke="#000" stroke-width="1.25" />
<line x1="597" y1="580" x2="597" y2="586.3" stroke="#000" stroke-width="1.25" />
<line x1="597" y1="523.4" x2="597" y2="572.6" stroke="#1a0a08" stroke-width="1.25" />
<rect x="591.4" y="535.5" width="10.7" height="24.7" fill="#fff" stroke="#000" stroke-width="0.9"/>
<line x1="591.4" y1="550.5" x2="602.1" y2="550.5" stroke="#000" stroke-width="1.7" />
<path d="M650.9,520 C650.98,520.2 651.07,520.62 651.4,521.19 C651.73,521.76 652.33,522.2 652.9,523.4 C653.47,524.6 654.15,526.73 654.8,528.4 C655.45,530.07 655.95,531.73 656.8,533.4 C657.65,535.07 658.92,536.73 659.9,538.4 C660.88,540.07 661.7,541.53 662.7,543.4 C663.7,545.27 664.03,547.53 665.9,549.6 C667.77,551.67 671.87,553.93 673.9,555.8 C675.93,557.67 678.05,559.13 678.1,560.8 C678.15,562.47 676.72,563.93 674.2,565.8 C671.68,567.67 666.37,569.93 663,572 C659.63,574.07 655.85,576.53 654,578.2 C652.15,579.87 652.38,581.26 651.9,582 C651.42,582.74 651.32,582.48 651.15,582.65 C650.98,582.82 650.94,582.94 650.9,583 C650.86,582.94 650.82,582.82 650.65,582.65 C650.48,582.48 650.38,582.74 649.9,582 C649.42,581.26 649.65,579.87 647.8,578.2 C645.95,576.53 642.17,574.07 638.8,572 C635.43,569.93 630.12,567.67 627.6,565.8 C625.08,563.93 623.65,562.47 623.7,560.8 C623.75,559.13 625.87,557.67 627.9,555.8 C629.93,553.93 634.03,551.67 635.9,549.6 C637.77,547.53 638.1,545.27 639.1,543.4 C640.1,541.53 640.92,540.07 641.9,538.4 C642.88,536.73 644.15,535.07 645,533.4 C645.85,531.73 646.35,530.07 647,528.4 C647.65,526.73 648.33,524.6 648.9,523.4 C649.47,522.2 650.07,521.76 650.4,521.19 C650.73,520.62 650.82,520.2 650.9,520Z" fill="#4dbbd5" stroke="#000" stroke-width="0.9" stroke-linejoin="round"/>
<line x1="650.9" y1="513.5" x2="650.9" y2="521.5" stroke="#000" stroke-width="1.25" />
<line x1="650.9" y1="581.5" x2="650.9" y2="589.4" stroke="#000" stroke-width="1.25" />
<line x1="650.9" y1="529" x2="650.9" y2="573.9" stroke="#1a0a08" stroke-width="1.25" />
<rect x="645.5" y="548.6" width="10.9" height="15.7" fill="#fff" stroke="#000" stroke-width="0.9"/>
<line x1="645.5" y1="560.2" x2="656.4" y2="560.2" stroke="#000" stroke-width="1.7" />
<path d="M597,524.1 L597,522.5 L650.9,522.5 L650.9,524.1" fill="none" stroke="#8a8a8a" stroke-width="0.7"/>
<text transform="translate(625.1,519.5) scale(1,1.07)" font-size="9.59" text-anchor="middle" fill="#555" font-weight="normal" font-style="normal" stroke="#555" stroke-width="0.08" >0.0018</text>
<rect x="419.6" y="601.1" width="118.9" height="15.8" fill="#ededed" stroke="#000" stroke-width="1.1"/>
<text transform="translate(479.05,612.4) scale(1,1.07)" font-size="9.79" text-anchor="middle" fill="#0d0d0d" font-weight="normal" font-style="normal" stroke="#0d0d0d" stroke-width="0.08" >Cell cycle control</text>
<line x1="419.5" y1="702.5" x2="538" y2="702.5" stroke="#111" stroke-width="1.0" />
<line x1="419.5" y1="616.9" x2="419.5" y2="702.5" stroke="#111" stroke-width="1.0" />
<line x1="416.7" y1="625.7" x2="419.5" y2="625.7" stroke="#111" stroke-width="1.0" />
<text transform="translate(415,629.1) scale(1,1.07)" font-size="8.98" text-anchor="end" fill="#0d0d0d" font-weight="normal" font-style="normal" stroke="#0d0d0d" stroke-width="0.08" >1.0</text>
<line x1="416.7" y1="641.4" x2="419.5" y2="641.4" stroke="#111" stroke-width="1.0" />
<text transform="translate(415,644.8) scale(1,1.07)" font-size="8.98" text-anchor="end" fill="#0d0d0d" font-weight="normal" font-style="normal" stroke="#0d0d0d" stroke-width="0.08" >0.5</text>
<line x1="416.7" y1="657.4" x2="419.5" y2="657.4" stroke="#111" stroke-width="1.0" />
<text transform="translate(415,660.8) scale(1,1.07)" font-size="8.98" text-anchor="end" fill="#0d0d0d" font-weight="normal" font-style="normal" stroke="#0d0d0d" stroke-width="0.08" >0.0</text>
<line x1="416.7" y1="673.4" x2="419.5" y2="673.4" stroke="#111" stroke-width="1.0" />
<text transform="translate(415,676.8) scale(1,1.07)" font-size="8.98" text-anchor="end" fill="#0d0d0d" font-weight="normal" font-style="normal" stroke="#0d0d0d" stroke-width="0.08" >−0.5</text>
<line x1="416.7" y1="689.6" x2="419.5" y2="689.6" stroke="#111" stroke-width="1.0" />
<text transform="translate(415,693) scale(1,1.07)" font-size="8.98" text-anchor="end" fill="#0d0d0d" font-weight="normal" font-style="normal" stroke="#0d0d0d" stroke-width="0.08" >−1.0</text>
<path d="M452,629.2 C452.08,629.34 452.17,629.64 452.5,630.04 C452.83,630.44 452.73,630.62 454,631.6 C455.27,632.58 457.07,634.35 460.1,635.9 C463.13,637.45 469.55,639.33 472.2,640.9 C474.85,642.47 476.15,643.85 476,645.3 C475.85,646.75 472.92,647.83 471.3,649.6 C469.68,651.37 466.87,653.82 466.3,655.9 C465.73,657.98 467.12,660.03 467.9,662.1 C468.68,664.17 470.42,666.43 471,668.3 C471.58,670.17 471.92,671.63 471.4,673.3 C470.88,674.97 470,676.65 467.9,678.3 C465.8,679.95 461.12,681.75 458.8,683.2 C456.48,684.65 455.05,686.26 454,687 C452.95,687.74 452.83,687.48 452.5,687.65 C452.17,687.82 452.08,687.94 452,688 C451.92,687.94 451.83,687.82 451.5,687.65 C451.17,687.48 451.05,687.74 450,687 C448.95,686.26 447.52,684.65 445.2,683.2 C442.88,681.75 438.2,679.95 436.1,678.3 C434,676.65 433.12,674.97 432.6,673.3 C432.08,671.63 432.42,670.17 433,668.3 C433.58,666.43 435.32,664.17 436.1,662.1 C436.88,660.03 438.27,657.98 437.7,655.9 C437.13,653.82 434.32,651.37 432.7,649.6 C431.08,647.83 428.15,646.75 428,645.3 C427.85,643.85 429.15,642.47 431.8,640.9 C434.45,639.33 440.87,637.45 443.9,635.9 C446.93,634.35 448.73,632.58 450,631.6 C451.27,630.62 451.17,630.44 451.5,630.04 C451.83,629.64 451.92,629.34 452,629.2Z" fill="#e64b35" stroke="#000" stroke-width="0.9" stroke-linejoin="round"/>
<line x1="452" y1="624.1" x2="452" y2="630.5" stroke="#000" stroke-width="1.25" />
<line x1="452" y1="687" x2="452" y2="692.6" stroke="#000" stroke-width="1.25" />
<line x1="452" y1="634.7" x2="452" y2="679.5" stroke="#1a0a08" stroke-width="1.25" />
<rect x="446.4" y="645.6" width="10.7" height="25.2" fill="#fff" stroke="#000" stroke-width="0.9"/>
<line x1="446.4" y1="656.7" x2="457.1" y2="656.7" stroke="#000" stroke-width="1.7" />
<path d="M505.8,627.4 C505.88,627.53 505.97,627.82 506.3,628.21 C506.63,628.59 506.63,628.62 507.8,629.7 C508.97,630.78 511.45,632.83 513.3,634.7 C515.15,636.57 517.78,639.03 518.9,640.9 C520.02,642.77 520.1,644.03 520,645.9 C519.9,647.77 518.7,650.03 518.3,652.1 C517.9,654.17 516.88,656.43 517.6,658.3 C518.32,660.17 520.73,661.63 522.6,663.3 C524.47,664.97 527.08,666.63 528.8,668.3 C530.52,669.97 533.05,671.63 532.9,673.3 C532.75,674.97 530.87,676.43 527.9,678.3 C524.93,680.17 518.37,682.63 515.1,684.5 C511.83,686.37 509.75,688.56 508.3,689.5 C506.85,690.44 506.84,689.98 506.43,690.15 C506.01,690.32 505.9,690.44 505.8,690.5 C505.7,690.44 505.59,690.32 505.18,690.15 C504.76,689.98 504.75,690.44 503.3,689.5 C501.85,688.56 499.77,686.37 496.5,684.5 C493.23,682.63 486.67,680.17 483.7,678.3 C480.73,676.43 478.85,674.97 478.7,673.3 C478.55,671.63 481.08,669.97 482.8,668.3 C484.52,666.63 487.13,664.97 489,663.3 C490.87,661.63 493.28,660.17 494,658.3 C494.72,656.43 493.7,654.17 493.3,652.1 C492.9,650.03 491.7,647.77 491.6,645.9 C491.5,644.03 491.58,642.77 492.7,640.9 C493.82,639.03 496.45,636.57 498.3,634.7 C500.15,632.83 502.63,630.78 503.8,629.7 C504.97,628.62 504.97,628.59 505.3,628.21 C505.63,627.82 505.72,627.53 505.8,627.4Z" fill="#4dbbd5" stroke="#000" stroke-width="0.9" stroke-linejoin="round"/>
<line x1="505.8" y1="621" x2="505.8" y2="628.5" stroke="#000" stroke-width="1.25" />
<line x1="505.8" y1="689.5" x2="505.8" y2="698.8" stroke="#000" stroke-width="1.25" />
<line x1="505.8" y1="639" x2="505.8" y2="680.8" stroke="#1a0a08" stroke-width="1.25" />
<rect x="500.5" y="651.5" width="10.9" height="23.3" fill="#fff" stroke="#000" stroke-width="0.9"/>
<line x1="500.5" y1="669.8" x2="511.4" y2="669.8" stroke="#000" stroke-width="1.7" />
<path d="M452,636 L452,634.4 L505.8,634.4 L505.8,636" fill="none" stroke="#8a8a8a" stroke-width="0.7"/>
<text transform="translate(480.9,631.1) scale(1,1.07)" font-size="9.59" text-anchor="middle" fill="#555" font-weight="normal" font-style="normal" stroke="#555" stroke-width="0.08" >0.024</text>
<rect x="565.4" y="601.4" width="119.2" height="15.8" fill="#ededed" stroke="#000" stroke-width="1.1"/>
<text transform="translate(625,612.6) scale(1,1.07)" font-size="9.79" text-anchor="middle" fill="#0d0d0d" font-weight="normal" font-style="normal" stroke="#0d0d0d" stroke-width="0.08" >Angiogenesis</text>
<line x1="565.5" y1="702.5" x2="685" y2="702.5" stroke="#111" stroke-width="1.0" />
<line x1="565.5" y1="617.2" x2="565.5" y2="702.5" stroke="#111" stroke-width="1.0" />
<line x1="562.7" y1="630.6" x2="565.5" y2="630.6" stroke="#111" stroke-width="1.0" />
<text transform="translate(560.6,633.7) scale(1,1.07)" font-size="8.98" text-anchor="end" fill="#0d0d0d" font-weight="normal" font-style="normal" stroke="#0d0d0d" stroke-width="0.08" >1.0</text>
<line x1="562.7" y1="645.2" x2="565.5" y2="645.2" stroke="#111" stroke-width="1.0" />
<text transform="translate(560.6,648.3) scale(1,1.07)" font-size="8.98" text-anchor="end" fill="#0d0d0d" font-weight="normal" font-style="normal" stroke="#0d0d0d" stroke-width="0.08" >0.5</text>
<line x1="562.7" y1="659.6" x2="565.5" y2="659.6" stroke="#111" stroke-width="1.0" />
<text transform="translate(560.6,662.7) scale(1,1.07)" font-size="8.98" text-anchor="end" fill="#0d0d0d" font-weight="normal" font-style="normal" stroke="#0d0d0d" stroke-width="0.08" >0.0</text>
<line x1="562.7" y1="674.4" x2="565.5" y2="674.4" stroke="#111" stroke-width="1.0" />
<text transform="translate(560.6,677.5) scale(1,1.07)" font-size="8.98" text-anchor="end" fill="#0d0d0d" font-weight="normal" font-style="normal" stroke="#0d0d0d" stroke-width="0.08" >−0.5</text>
<line x1="562.7" y1="688.8" x2="565.5" y2="688.8" stroke="#111" stroke-width="1.0" />
<text transform="translate(560.6,691.9) scale(1,1.07)" font-size="8.98" text-anchor="end" fill="#0d0d0d" font-weight="normal" font-style="normal" stroke="#0d0d0d" stroke-width="0.08" >−1.0</text>
<path d="M597.9,630.6 C597.98,630.73 598.07,631 598.4,631.37 C598.73,631.74 598.63,631.83 599.9,632.8 C601.17,633.77 603.78,635.63 606,637.2 C608.22,638.77 611.78,640.75 613.2,642.2 C614.62,643.65 614.62,644.45 614.5,645.9 C614.38,647.35 612.98,649.45 612.5,650.9 C612.02,652.35 611.33,652.95 611.6,654.6 C611.87,656.25 612.97,658.72 614.1,660.8 C615.23,662.88 617.35,665.23 618.4,667.1 C619.45,668.97 620.92,670.35 620.4,672 C619.88,673.65 617.97,675.13 615.3,677 C612.63,678.87 607.05,681.53 604.4,683.2 C601.75,684.87 600.42,686.26 599.4,687 C598.38,687.74 598.52,687.48 598.27,687.65 C598.02,687.82 597.96,687.94 597.9,688 C597.84,687.94 597.77,687.82 597.52,687.65 C597.27,687.48 597.42,687.74 596.4,687 C595.38,686.26 594.05,684.87 591.4,683.2 C588.75,681.53 583.17,678.87 580.5,677 C577.83,675.13 575.92,673.65 575.4,672 C574.88,670.35 576.35,668.97 577.4,667.1 C578.45,665.23 580.57,662.88 581.7,660.8 C582.83,658.72 583.93,656.25 584.2,654.6 C584.47,652.95 583.78,652.35 583.3,650.9 C582.82,649.45 581.42,647.35 581.3,645.9 C581.18,644.45 581.18,643.65 582.6,642.2 C584.02,640.75 587.58,638.77 589.8,637.2 C592.02,635.63 594.63,633.77 595.9,632.8 C597.17,631.83 597.07,631.74 597.4,631.37 C597.73,631 597.82,630.73 597.9,630.6Z" fill="#e64b35" stroke="#000" stroke-width="0.9" stroke-linejoin="round"/>
<line x1="597.9" y1="623.7" x2="597.9" y2="631.8" stroke="#000" stroke-width="1.25" />
<line x1="597.9" y1="687" x2="597.9" y2="694.5" stroke="#000" stroke-width="1.25" />
<line x1="597.9" y1="634" x2="597.9" y2="681.4" stroke="#1a0a08" stroke-width="1.25" />
<rect x="592.3" y="649" width="11.2" height="23.7" fill="#fff" stroke="#000" stroke-width="0.9"/>
<line x1="592.3" y1="662.3" x2="603.5" y2="662.3" stroke="#000" stroke-width="1.7" />
<path d="M651.9,627.4 C651.98,627.53 652.07,627.82 652.4,628.21 C652.73,628.59 653.1,628.62 653.9,629.7 C654.7,630.78 656.03,632.83 657.2,634.7 C658.37,636.57 660.15,639.03 660.9,640.9 C661.65,642.77 661.85,644.03 661.7,645.9 C661.55,647.77 659.77,650.23 660,652.1 C660.23,653.97 661.33,655.23 663.1,657.1 C664.87,658.97 668.32,661.43 670.6,663.3 C672.88,665.17 675.35,666.63 676.8,668.3 C678.25,669.97 679.77,671.63 679.3,673.3 C678.83,674.97 677.07,676.43 674,678.3 C670.93,680.17 664.17,682.63 660.9,684.5 C657.63,686.37 655.8,688.56 654.4,689.5 C653,690.44 652.94,689.98 652.52,690.15 C652.11,690.32 652,690.44 651.9,690.5 C651.8,690.44 651.69,690.32 651.27,690.15 C650.86,689.98 650.8,690.44 649.4,689.5 C648,688.56 646.17,686.37 642.9,684.5 C639.63,682.63 632.87,680.17 629.8,678.3 C626.73,676.43 624.97,674.97 624.5,673.3 C624.03,671.63 625.55,669.97 627,668.3 C628.45,666.63 630.92,665.17 633.2,663.3 C635.48,661.43 638.93,658.97 640.7,657.1 C642.47,655.23 643.57,653.97 643.8,652.1 C644.03,650.23 642.25,647.77 642.1,645.9 C641.95,644.03 642.15,642.77 642.9,640.9 C643.65,639.03 645.43,636.57 646.6,634.7 C647.77,632.83 649.1,630.78 649.9,629.7 C650.7,628.62 651.07,628.59 651.4,628.21 C651.73,627.82 651.82,627.53 651.9,627.4Z" fill="#4dbbd5" stroke="#000" stroke-width="0.9" stroke-linejoin="round"/>
<line x1="651.9" y1="621" x2="651.9" y2="628.5" stroke="#000" stroke-width="1.25" />
<line x1="651.9" y1="689.5" x2="651.9" y2="698.8" stroke="#000" stroke-width="1.25" />
<line x1="651.9" y1="637.2" x2="651.9" y2="682.6" stroke="#1a0a08" stroke-width="1.25" />
<rect x="646.3" y="659.6" width="11.2" height="15.9" fill="#fff" stroke="#000" stroke-width="0.9"/>
<line x1="646.3" y1="670.2" x2="657.5" y2="670.2" stroke="#000" stroke-width="1.7" />
<path d="M597.9,634.7 L597.9,633.1 L651.9,633.1 L651.9,634.7" fill="none" stroke="#8a8a8a" stroke-width="0.7"/>
<text transform="translate(626.4,630.4) scale(1,1.07)" font-size="9.59" text-anchor="middle" fill="#555" font-weight="normal" font-style="normal" stroke="#555" stroke-width="0.08" >0.02</text>
<text transform="translate(459.6,717.4) scale(1,1.07)" font-size="9.69" text-anchor="start" fill="#0d0d0d" font-weight="normal" font-style="normal" stroke="#0d0d0d" stroke-width="0.08" >SBS17b exposure</text>
<rect x="548" y="707.8" width="12.4" height="12.4" fill="#e64b35" stroke="#333" stroke-width="0.9"/>
<text transform="translate(564.5,717) scale(1,1.07)" font-size="9.69" text-anchor="start" fill="#0d0d0d" font-weight="normal" font-style="normal" stroke="#0d0d0d" stroke-width="0.08" >YES</text>
<rect x="592.7" y="707.8" width="12.6" height="12.4" fill="#4dbbd5" stroke="#333" stroke-width="0.9"/>
<text transform="translate(609.7,717) scale(1,1.07)" font-size="9.69" text-anchor="start" fill="#0d0d0d" font-weight="normal" font-style="normal" stroke="#0d0d0d" stroke-width="0.08" >NO</text>
</g>
</svg></div>
</body></html>
